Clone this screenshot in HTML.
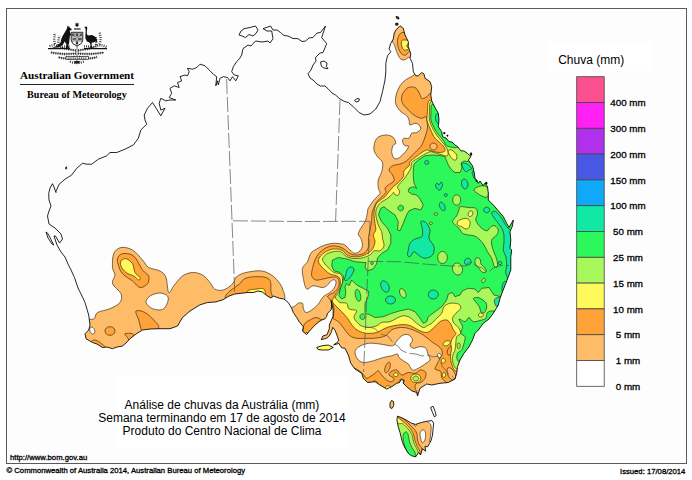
<!DOCTYPE html>
<html><head><meta charset="utf-8">
<style>
html,body{margin:0;padding:0;background:#fff;}
body{width:692px;height:480px;overflow:hidden;position:relative;font-family:"Liberation Sans",sans-serif;}
svg{position:absolute;left:0;top:0;}
.t{position:absolute;white-space:nowrap;color:#000;}
.lb{width:60px;text-align:center;font-size:9.8px;line-height:12px;-webkit-text-stroke:0.3px #000;}
.sm{font-size:7.7px;line-height:9px;-webkit-text-stroke:0.3px #000;}
</style></head><body>
<svg width="692" height="480" viewBox="0 0 692 480">
<rect x="0" y="0" width="692" height="480" fill="#fff"/>
<rect x="6.5" y="8.5" width="680" height="455" fill="#fdfdfd" stroke="#5a5a5a" stroke-width="1"/>
<!--MAP-->
<defs><clipPath id="land"><path d="M174.2,85.8 L179.2,87.5 L177.5,82.5 L181.7,80.8 L180.0,76.7 L185.0,75.0 L187.5,75.8 L189.2,71.7 L187.5,68.3 L192.5,69.2 L196.7,67.5 L200.0,64.2 L205.0,65.8 L209.2,70.0 L213.3,74.2 L216.7,76.7 L215.8,85.8 L217.5,80.8 L218.3,85.0 L220.0,78.3 L223.3,76.7 L227.5,77.5 L230.0,80.8 L232.5,76.7 L235.8,80.8 L238.3,75.8 L234.2,75.0 L231.7,71.7 L233.3,66.7 L236.7,61.7 L240.0,58.0 L241.7,55.0 L243.0,48.7 L248.0,45.0 L251.0,46.0 L255.5,41.0 L262.0,42.0 L268.0,41.0 L270.0,43.0 L273.0,38.7 L271.7,31.0 L267.0,31.0 L263.0,28.7 L270.5,26.0 L273.0,30.0 L277.0,30.0 L280.5,32.5 L284.0,35.5 L288.0,36.0 L293.0,38.5 L298.0,38.7 L302.0,41.5 L305.5,41.0 L309.0,38.0 L313.0,37.5 L317.0,33.0 L320.5,32.5 L325.5,26.0 L321.7,37.5 L326.7,43.7 L323.0,52.5 L320.0,53.0 L315.5,57.5 L316.0,61.0 L313.0,65.0 L311.0,70.0 L308.0,73.7 L310.0,78.0 L313.0,80.0 L317.0,84.0 L320.5,86.0 L325.0,86.0 L328.0,88.7 L332.0,93.0 L335.5,95.0 L340.0,99.0 L345.0,101.7 L348.3,102.5 L353.3,106.7 L359.0,112.5 L364.0,115.0 L370.0,114.0 L375.8,109.0 L380.0,101.7 L382.5,91.7 L385.0,80.0 L385.8,71.7 L385.8,63.3 L387.5,55.8 L390.8,51.7 L389.0,49.0 L390.8,43.3 L393.3,39.0 L394.0,34.0 L395.8,30.0 L400.0,25.8 L403.3,28.3 L405.0,35.0 L408.3,41.7 L408.3,46.7 L410.8,54.0 L410.0,58.3 L412.5,63.3 L413.3,71.7 L415.8,75.8 L418.3,75.8 L421.7,72.5 L424.0,74.0 L425.0,78.3 L430.0,81.7 L431.7,86.7 L430.8,95.0 L431.7,100.8 L435.0,107.5 L438.3,113.3 L439.0,120.0 L438.3,126.7 L441.7,131.7 L442.5,136.7 L446.0,138.0 L449.0,141.7 L452.0,142.0 L455.0,145.0 L458.0,147.0 L460.8,150.8 L464.0,151.0 L467.5,153.3 L470.8,156.7 L468.3,160.0 L472.5,165.8 L474.0,171.7 L475.0,178.3 L478.3,183.3 L480.0,181.0 L483.3,185.8 L485.0,183.0 L487.5,186.7 L488.3,193.3 L488.3,200.0 L493.3,205.0 L498.3,210.8 L503.3,216.7 L506.7,223.3 L509.0,227.5 L513.3,220.0 L512.5,225.8 L510.0,231.7 L510.8,240.0 L510.0,248.3 L511.7,250.0 L510.8,256.7 L510.8,265.0 L510.8,270.0 L508.3,276.7 L505.8,283.3 L502.5,291.7 L500.0,298.3 L498.3,305.0 L493.3,313.3 L489.0,319.0 L483.3,323.3 L478.3,330.0 L475.0,333.3 L472.5,340.0 L469.0,346.7 L464.0,353.3 L460.0,360.0 L457.5,366.7 L456.7,373.3 L455.0,379.0 L448.3,382.5 L440.0,383.3 L431.7,385.0 L426.7,384.0 L420.0,388.3 L417.5,396.0 L416.7,392.5 L411.7,390.8 L406.7,386.7 L403.0,383.0 L404.0,380.5 L401.0,379.5 L399.5,382.5 L396.7,383.3 L391.7,386.7 L386.7,389.0 L380.0,385.0 L375.0,381.7 L367.5,382.5 L363.3,378.3 L361.7,373.3 L355.0,369.0 L350.8,363.3 L348.3,355.0 L345.0,348.3 L341.7,347.8 L338.8,343.4 L333.7,344.9 L336.6,342.7 L338.8,340.5 L337.3,336.1 L335.1,330.3 L332.7,327.3 L331.5,331.7 L329.3,336.1 L326.4,338.3 L321.3,339.7 L322.7,336.1 L327.1,334.6 L329.3,328.8 L329.3,325.1 L330.8,321.5 L333.0,316.4 L333.2,310.5 L332.3,305.0 L331.0,300.5 L331.6,305.0 L331.3,309.8 L330.0,310.8 L327.5,313.4 L326.6,316.6 L325.0,318.8 L321.2,320.3 L318.8,321.9 L315.0,325.0 L311.8,328.5 L308.9,331.7 L306.7,334.6 L304.5,333.0 L302.5,330.8 L303.3,326.7 L299.2,321.7 L296.7,317.5 L293.3,312.5 L291.7,308.3 L288.3,302.5 L283.8,299.0 L279.5,298.3 L273.7,296.1 L270.8,297.9 L266.5,295.4 L262.1,291.8 L257.8,291.1 L253.5,292.5 L247.7,292.5 L241.9,293.2 L234.7,294.0 L228.9,296.1 L223.1,299.7 L215.9,301.9 L207.2,302.6 L200.0,304.8 L190.0,311.0 L182.5,317.5 L177.5,326.0 L170.0,328.7 L160.0,328.7 L150.0,329.0 L142.5,330.0 L136.0,334.0 L130.0,338.7 L126.0,343.0 L122.5,346.0 L117.0,347.0 L112.5,348.7 L107.0,347.0 L102.5,347.5 L97.0,344.0 L92.5,342.5 L86.0,338.7 L85.0,333.7 L88.7,330.0 L90.0,325.0 L88.7,315.0 L85.0,302.5 L82.0,296.0 L78.0,288.0 L74.5,277.5 L71.0,270.0 L68.0,264.0 L65.0,257.0 L61.0,252.0 L57.0,245.0 L54.0,236.0 L55.5,236.0 L59.5,243.0 L62.5,239.0 L61.0,234.0 L55.0,228.0 L49.0,224.0 L47.5,216.0 L49.0,211.0 L51.0,206.0 L49.0,200.0 L48.7,193.7 L50.0,188.0 L52.5,183.7 L54.0,187.0 L56.0,192.5 L55.8,191.7 L59.2,184.2 L65.0,179.2 L71.7,175.0 L76.7,168.3 L82.5,163.3 L86.7,164.2 L91.7,164.2 L98.3,159.2 L106.7,155.8 L110.0,152.5 L116.7,152.5 L125.0,149.2 L133.3,145.0 L138.3,138.3 L140.8,130.0 L146.7,124.2 L145.0,120.0 L144.2,115.0 L147.5,108.3 L152.5,102.5 L160.8,115.8 L165.0,108.3 L160.8,110.0 L159.2,103.3 L160.8,98.3 L165.8,100.8 L170.0,100.0 L175.8,100.0 L169.2,97.5 L171.7,93.3 L170.0,88.3Z M397.5,416.2 L401.2,417.5 L406.2,420.0 L411.2,423.1 L415.6,424.4 L421.2,422.5 L427.5,421.2 L431.9,420.6 L433.7,423.1 L433.1,428.7 L432.5,435.0 L431.2,440.0 L429.4,443.7 L427.5,446.9 L425.0,446.2 L425.6,451.2 L422.5,448.7 L420.6,455.0 L418.7,452.5 L415.6,456.9 L411.2,455.6 L408.1,453.1 L405.0,448.1 L402.5,442.5 L401.2,437.5 L400.0,432.5 L398.1,426.2 L396.9,420.0Z M316.7,347.5 L321.7,345.8 L328.3,345.0 L333.3,347.5 L328.3,350.0 L321.7,350.0 L318.0,349.5Z M391.5,400.5 L393.5,401.5 L393.8,405.5 L392.0,408.5 L390.0,407.5 L390.0,403.0Z"/></clipPath></defs>
<path d="M174.2,85.8 L179.2,87.5 L177.5,82.5 L181.7,80.8 L180.0,76.7 L185.0,75.0 L187.5,75.8 L189.2,71.7 L187.5,68.3 L192.5,69.2 L196.7,67.5 L200.0,64.2 L205.0,65.8 L209.2,70.0 L213.3,74.2 L216.7,76.7 L215.8,85.8 L217.5,80.8 L218.3,85.0 L220.0,78.3 L223.3,76.7 L227.5,77.5 L230.0,80.8 L232.5,76.7 L235.8,80.8 L238.3,75.8 L234.2,75.0 L231.7,71.7 L233.3,66.7 L236.7,61.7 L240.0,58.0 L241.7,55.0 L243.0,48.7 L248.0,45.0 L251.0,46.0 L255.5,41.0 L262.0,42.0 L268.0,41.0 L270.0,43.0 L273.0,38.7 L271.7,31.0 L267.0,31.0 L263.0,28.7 L270.5,26.0 L273.0,30.0 L277.0,30.0 L280.5,32.5 L284.0,35.5 L288.0,36.0 L293.0,38.5 L298.0,38.7 L302.0,41.5 L305.5,41.0 L309.0,38.0 L313.0,37.5 L317.0,33.0 L320.5,32.5 L325.5,26.0 L321.7,37.5 L326.7,43.7 L323.0,52.5 L320.0,53.0 L315.5,57.5 L316.0,61.0 L313.0,65.0 L311.0,70.0 L308.0,73.7 L310.0,78.0 L313.0,80.0 L317.0,84.0 L320.5,86.0 L325.0,86.0 L328.0,88.7 L332.0,93.0 L335.5,95.0 L340.0,99.0 L345.0,101.7 L348.3,102.5 L353.3,106.7 L359.0,112.5 L364.0,115.0 L370.0,114.0 L375.8,109.0 L380.0,101.7 L382.5,91.7 L385.0,80.0 L385.8,71.7 L385.8,63.3 L387.5,55.8 L390.8,51.7 L389.0,49.0 L390.8,43.3 L393.3,39.0 L394.0,34.0 L395.8,30.0 L400.0,25.8 L403.3,28.3 L405.0,35.0 L408.3,41.7 L408.3,46.7 L410.8,54.0 L410.0,58.3 L412.5,63.3 L413.3,71.7 L415.8,75.8 L418.3,75.8 L421.7,72.5 L424.0,74.0 L425.0,78.3 L430.0,81.7 L431.7,86.7 L430.8,95.0 L431.7,100.8 L435.0,107.5 L438.3,113.3 L439.0,120.0 L438.3,126.7 L441.7,131.7 L442.5,136.7 L446.0,138.0 L449.0,141.7 L452.0,142.0 L455.0,145.0 L458.0,147.0 L460.8,150.8 L464.0,151.0 L467.5,153.3 L470.8,156.7 L468.3,160.0 L472.5,165.8 L474.0,171.7 L475.0,178.3 L478.3,183.3 L480.0,181.0 L483.3,185.8 L485.0,183.0 L487.5,186.7 L488.3,193.3 L488.3,200.0 L493.3,205.0 L498.3,210.8 L503.3,216.7 L506.7,223.3 L509.0,227.5 L513.3,220.0 L512.5,225.8 L510.0,231.7 L510.8,240.0 L510.0,248.3 L511.7,250.0 L510.8,256.7 L510.8,265.0 L510.8,270.0 L508.3,276.7 L505.8,283.3 L502.5,291.7 L500.0,298.3 L498.3,305.0 L493.3,313.3 L489.0,319.0 L483.3,323.3 L478.3,330.0 L475.0,333.3 L472.5,340.0 L469.0,346.7 L464.0,353.3 L460.0,360.0 L457.5,366.7 L456.7,373.3 L455.0,379.0 L448.3,382.5 L440.0,383.3 L431.7,385.0 L426.7,384.0 L420.0,388.3 L417.5,396.0 L416.7,392.5 L411.7,390.8 L406.7,386.7 L403.0,383.0 L404.0,380.5 L401.0,379.5 L399.5,382.5 L396.7,383.3 L391.7,386.7 L386.7,389.0 L380.0,385.0 L375.0,381.7 L367.5,382.5 L363.3,378.3 L361.7,373.3 L355.0,369.0 L350.8,363.3 L348.3,355.0 L345.0,348.3 L341.7,347.8 L338.8,343.4 L333.7,344.9 L336.6,342.7 L338.8,340.5 L337.3,336.1 L335.1,330.3 L332.7,327.3 L331.5,331.7 L329.3,336.1 L326.4,338.3 L321.3,339.7 L322.7,336.1 L327.1,334.6 L329.3,328.8 L329.3,325.1 L330.8,321.5 L333.0,316.4 L333.2,310.5 L332.3,305.0 L331.0,300.5 L331.6,305.0 L331.3,309.8 L330.0,310.8 L327.5,313.4 L326.6,316.6 L325.0,318.8 L321.2,320.3 L318.8,321.9 L315.0,325.0 L311.8,328.5 L308.9,331.7 L306.7,334.6 L304.5,333.0 L302.5,330.8 L303.3,326.7 L299.2,321.7 L296.7,317.5 L293.3,312.5 L291.7,308.3 L288.3,302.5 L283.8,299.0 L279.5,298.3 L273.7,296.1 L270.8,297.9 L266.5,295.4 L262.1,291.8 L257.8,291.1 L253.5,292.5 L247.7,292.5 L241.9,293.2 L234.7,294.0 L228.9,296.1 L223.1,299.7 L215.9,301.9 L207.2,302.6 L200.0,304.8 L190.0,311.0 L182.5,317.5 L177.5,326.0 L170.0,328.7 L160.0,328.7 L150.0,329.0 L142.5,330.0 L136.0,334.0 L130.0,338.7 L126.0,343.0 L122.5,346.0 L117.0,347.0 L112.5,348.7 L107.0,347.0 L102.5,347.5 L97.0,344.0 L92.5,342.5 L86.0,338.7 L85.0,333.7 L88.7,330.0 L90.0,325.0 L88.7,315.0 L85.0,302.5 L82.0,296.0 L78.0,288.0 L74.5,277.5 L71.0,270.0 L68.0,264.0 L65.0,257.0 L61.0,252.0 L57.0,245.0 L54.0,236.0 L55.5,236.0 L59.5,243.0 L62.5,239.0 L61.0,234.0 L55.0,228.0 L49.0,224.0 L47.5,216.0 L49.0,211.0 L51.0,206.0 L49.0,200.0 L48.7,193.7 L50.0,188.0 L52.5,183.7 L54.0,187.0 L56.0,192.5 L55.8,191.7 L59.2,184.2 L65.0,179.2 L71.7,175.0 L76.7,168.3 L82.5,163.3 L86.7,164.2 L91.7,164.2 L98.3,159.2 L106.7,155.8 L110.0,152.5 L116.7,152.5 L125.0,149.2 L133.3,145.0 L138.3,138.3 L140.8,130.0 L146.7,124.2 L145.0,120.0 L144.2,115.0 L147.5,108.3 L152.5,102.5 L160.8,115.8 L165.0,108.3 L160.8,110.0 L159.2,103.3 L160.8,98.3 L165.8,100.8 L170.0,100.0 L175.8,100.0 L169.2,97.5 L171.7,93.3 L170.0,88.3Z M397.5,416.2 L401.2,417.5 L406.2,420.0 L411.2,423.1 L415.6,424.4 L421.2,422.5 L427.5,421.2 L431.9,420.6 L433.7,423.1 L433.1,428.7 L432.5,435.0 L431.2,440.0 L429.4,443.7 L427.5,446.9 L425.0,446.2 L425.6,451.2 L422.5,448.7 L420.6,455.0 L418.7,452.5 L415.6,456.9 L411.2,455.6 L408.1,453.1 L405.0,448.1 L402.5,442.5 L401.2,437.5 L400.0,432.5 L398.1,426.2 L396.9,420.0Z M316.7,347.5 L321.7,345.8 L328.3,345.0 L333.3,347.5 L328.3,350.0 L321.7,350.0 L318.0,349.5Z M391.5,400.5 L393.5,401.5 L393.8,405.5 L392.0,408.5 L390.0,407.5 L390.0,403.0Z" fill="#fdfdfd" stroke="none"/>
<g clip-path="url(#land)" stroke="#33240c" stroke-width="0.65" stroke-linejoin="round">
<path d="M414.0,75.0 C412.1,76.7 410.2,77.0 408.3,78.3 C406.4,79.5 404.2,80.7 402.5,82.5 C400.8,84.3 399.4,86.6 398.3,89.0 C397.2,91.4 396.2,94.2 395.8,96.7 C395.4,99.2 395.1,101.7 395.8,104.0 C396.5,106.3 398.2,108.8 400.0,110.8 C401.8,112.8 405.2,114.3 406.7,115.8 C408.2,117.3 408.4,118.5 409.0,120.0 C409.6,121.5 409.0,124.5 410.0,125.0 C411.0,125.5 413.5,123.3 415.0,123.3 C416.5,123.3 418.0,124.0 419.0,125.0 C420.0,126.0 421.2,127.8 420.8,129.0 C420.4,130.2 418.2,131.8 416.7,132.5 C415.2,133.2 413.0,132.3 411.7,133.3 C410.4,134.3 410.3,137.5 409.0,138.3 C407.7,139.1 405.1,137.7 404.0,138.3 C402.9,138.9 402.3,140.4 402.5,141.7 C402.7,142.9 404.0,145.1 405.0,145.8 C406.0,146.5 407.9,145.3 408.3,145.8 C408.7,146.3 408.3,147.6 407.5,149.0 C406.7,150.4 404.8,152.4 403.3,154.0 C401.8,155.6 399.9,157.6 398.3,158.3 C396.8,159.0 395.1,159.4 394.0,158.3 C392.9,157.2 391.8,153.9 391.7,151.7 C391.6,149.5 392.6,146.4 393.3,145.0 C394.0,143.6 395.8,144.6 395.8,143.3 C395.8,142.1 394.8,138.9 393.3,137.5 C391.8,136.1 389.1,135.1 386.7,135.0 C384.3,134.9 380.9,135.6 379.0,136.7 C377.1,137.8 375.8,139.5 375.0,141.7 C374.2,143.9 373.6,147.5 374.0,150.0 C374.4,152.5 376.1,154.6 377.5,156.7 C378.9,158.8 381.8,160.0 382.5,162.5 C383.2,165.0 382.4,168.8 381.7,171.7 C381.0,174.6 378.9,177.2 378.3,180.0 C377.7,182.8 378.0,186.1 378.3,188.3 C378.6,190.5 380.7,191.4 380.0,193.3 C379.3,195.2 375.9,197.5 374.0,200.0 C372.1,202.5 369.4,206.4 368.3,208.3 C367.2,210.2 367.9,209.8 367.5,211.7 C367.1,213.6 366.9,217.2 365.8,220.0 C364.7,222.8 362.1,226.0 360.8,228.3 C359.6,230.6 358.3,232.3 358.3,234.0 C358.3,235.7 360.1,236.5 360.8,238.3 C361.5,240.1 362.6,242.9 362.5,245.0 C362.4,247.1 361.2,249.4 360.0,250.8 C358.8,252.2 356.7,253.4 355.0,253.3 C353.3,253.2 351.7,251.4 350.0,250.0 C348.3,248.6 346.4,246.0 345.0,245.0 C343.6,244.0 343.6,244.3 341.7,244.0 C339.8,243.7 336.1,243.1 333.3,243.3 C330.5,243.5 327.8,244.1 325.0,245.0 C322.2,245.9 319.1,247.6 316.7,249.0 C314.3,250.4 312.3,251.2 310.8,253.3 C309.3,255.4 308.9,259.2 307.5,261.7 C306.1,264.2 303.2,265.5 302.5,268.3 C301.8,271.1 302.6,274.9 303.3,278.3 C304.0,281.8 305.0,287.8 306.7,289.0 C308.4,290.2 310.5,286.1 313.3,285.8 C316.1,285.6 320.7,287.9 323.3,287.5 C325.9,287.1 327.5,284.6 329.0,283.3 C330.5,282.1 331.4,280.4 332.5,280.0 C333.6,279.6 335.4,279.7 335.8,280.8 C336.2,281.9 336.0,284.8 335.0,286.7 C334.0,288.6 331.9,290.8 330.0,292.5 C328.1,294.2 325.2,294.8 323.3,296.7 C321.4,298.6 320.2,301.8 318.3,304.0 C316.4,306.2 313.8,308.6 311.7,310.0 C309.6,311.4 307.2,312.8 305.8,312.5 C304.4,312.2 303.9,309.8 303.3,308.3 C302.8,306.8 303.3,304.1 302.5,303.3 C301.7,302.5 299.7,302.7 298.3,303.3 C296.9,303.9 296.2,305.2 294.0,306.7 C291.8,308.1 284.8,306.4 285.0,312.0 C285.2,317.6 287.5,332.0 295.0,340.0 C302.5,348.0 321.7,353.3 330.0,360.0 C338.3,366.7 339.2,374.2 345.0,380.0 C350.8,385.8 357.5,391.7 365.0,395.0 C372.5,398.3 380.8,398.3 390.0,400.0 C399.2,401.7 406.7,406.7 420.0,405.0 C433.3,403.3 458.3,399.2 470.0,390.0 C481.7,380.8 480.0,365.0 490.0,350.0 C500.0,335.0 523.3,325.0 530.0,300.0 C536.7,275.0 536.7,225.0 530.0,200.0 C523.3,175.0 502.5,166.7 490.0,150.0 C477.5,133.3 463.3,113.3 455.0,100.0 C446.7,86.7 445.8,75.3 440.0,70.0 C434.2,64.7 424.3,67.2 420.0,68.0 C415.7,68.8 415.9,73.3 414.0,75.0Z" fill="#ffbc68"/>
<path d="M355.0,351.7 C355.2,349.6 356.8,348.1 359.0,346.7 C361.2,345.3 364.8,343.8 368.3,343.3 C371.8,342.9 376.4,343.6 380.0,344.0 C383.6,344.4 387.7,345.6 390.0,345.8 C392.3,346.0 392.8,346.0 394.0,345.0 C395.2,344.0 395.9,341.7 397.5,340.0 C399.1,338.3 401.4,335.8 403.3,335.0 C405.2,334.2 407.5,334.2 409.0,335.0 C410.5,335.8 412.3,338.3 412.5,340.0 C412.7,341.7 409.9,343.6 410.0,345.0 C410.1,346.4 411.6,348.0 413.3,348.3 C415.0,348.6 417.9,346.7 420.0,346.7 C422.1,346.7 424.4,346.9 425.8,348.3 C427.2,349.7 427.6,353.1 428.3,355.0 C429.0,356.9 430.6,358.5 430.0,360.0 C429.4,361.5 426.9,362.6 425.0,364.0 C423.1,365.4 420.4,367.3 418.3,368.3 C416.2,369.3 414.2,370.7 412.5,370.0 C410.8,369.3 409.8,365.5 408.3,364.0 C406.8,362.5 404.9,361.9 403.3,360.8 C401.8,359.7 400.0,358.6 399.0,357.5 C398.0,356.4 398.7,354.3 397.5,354.0 C396.3,353.7 394.1,355.2 391.7,355.8 C389.3,356.4 386.4,356.7 383.3,357.5 C380.2,358.3 376.6,360.0 373.3,360.8 C370.0,361.6 365.9,362.8 363.3,362.5 C360.7,362.2 358.9,360.8 357.5,359.0 C356.1,357.2 354.8,353.8 355.0,351.7Z" fill="#fdfdfd"/>
<path d="M441.3,355.7 C441.3,356.1 441.2,356.5 441.0,356.8 C440.9,357.2 440.6,357.5 440.3,357.7 C440.0,357.9 439.6,358.0 439.3,358.0 C439.0,358.0 438.6,357.9 438.3,357.7 C438.0,357.5 437.7,357.2 437.6,356.8 C437.4,356.5 437.3,356.1 437.3,355.7 C437.3,355.3 437.4,354.9 437.6,354.6 C437.7,354.2 438.0,353.9 438.3,353.7 C438.6,353.5 439.0,353.4 439.3,353.4 C439.6,353.4 440.0,353.5 440.3,353.7 C440.6,353.9 440.9,354.2 441.0,354.6 C441.2,354.9 441.3,355.3 441.3,355.7Z" fill="#fdfdfd"/>
<path d="M394.0,28.0 C395.3,25.0 397.0,21.7 400.0,22.0 C403.0,22.3 410.0,24.5 412.0,30.0 C414.0,35.5 412.6,50.4 412.0,55.0 C411.4,59.6 409.6,56.7 408.3,57.5 C407.0,58.3 405.4,59.9 404.0,60.0 C402.6,60.1 401.2,59.7 400.0,58.3 C398.8,56.9 397.6,53.9 396.7,51.7 C395.8,49.5 395.3,47.0 394.5,45.0 C393.7,43.0 392.1,42.8 392.0,40.0 C391.9,37.2 392.7,31.0 394.0,28.0Z" fill="#ffbc68"/>
<path d="M400.0,34.0 C401.0,32.8 401.3,32.5 403.3,32.5 C405.3,32.5 410.6,31.1 412.0,34.0 C413.4,36.9 412.5,47.0 412.0,50.0 C411.5,53.0 410.0,50.9 409.0,51.7 C408.0,52.5 407.0,54.6 405.8,55.0 C404.6,55.4 402.9,55.2 401.7,54.0 C400.4,52.8 399.0,49.8 398.3,47.5 C397.6,45.2 397.2,42.2 397.5,40.0 C397.8,37.8 399.0,35.2 400.0,34.0Z" fill="#ffa238"/>
<path d="M401.7,40.8 C402.1,39.8 402.6,40.0 404.0,40.0 C405.4,40.0 409.6,40.0 410.0,41.0 C410.4,42.0 406.9,44.5 406.7,45.8 C406.4,47.1 408.9,48.3 408.5,49.0 C408.1,49.7 405.1,50.5 404.0,50.0 C402.9,49.5 402.1,47.3 401.7,45.8 C401.3,44.3 401.3,41.8 401.7,40.8Z" fill="#fffa5c"/>
<path d="M84.0,320.0 C86.0,318.2 91.5,320.2 93.7,319.0 C96.0,317.8 94.8,314.2 97.5,312.5 C100.2,310.8 106.2,310.4 110.0,308.7 C113.8,307.0 118.2,305.0 120.0,302.5 C121.8,300.0 122.2,296.8 121.0,293.7 C119.8,290.6 113.5,286.8 112.5,283.7 C111.5,280.6 115.0,277.7 115.0,275.0 C115.0,272.3 112.7,271.1 112.5,267.5 C112.3,263.9 112.3,257.0 113.7,253.7 C115.1,250.4 117.9,248.1 121.0,247.5 C124.1,246.9 128.9,247.9 132.5,250.0 C136.1,252.1 139.8,257.1 142.5,260.0 C145.2,262.9 145.8,265.7 148.7,267.5 C151.6,269.3 157.1,269.3 160.0,271.0 C162.9,272.7 164.6,273.9 166.0,277.5 C167.4,281.1 167.4,291.1 168.7,292.5 C170.0,293.9 171.4,288.8 173.7,286.0 C176.0,283.2 179.4,278.2 182.5,276.0 C185.6,273.8 189.2,272.7 192.5,272.5 C195.8,272.3 199.6,273.3 202.5,275.0 C205.4,276.7 208.0,280.2 210.0,282.5 C212.0,284.8 212.6,287.6 214.5,288.9 C216.4,290.2 219.4,290.5 221.7,290.3 C224.0,290.1 226.3,288.7 228.2,287.5 C230.1,286.3 231.9,284.7 233.2,283.0 C234.5,281.3 234.6,278.9 236.1,277.3 C237.6,275.8 239.5,274.6 241.9,273.7 C244.3,272.8 247.7,272.1 250.6,271.6 C253.5,271.1 256.6,270.7 259.2,270.8 C261.8,270.9 264.1,271.3 266.5,272.3 C268.9,273.3 271.5,274.8 273.7,276.6 C275.9,278.4 277.9,280.7 279.5,283.0 C281.1,285.3 282.4,287.5 283.1,290.3 C283.9,293.1 286.2,297.6 284.0,300.0 C281.8,302.4 277.3,305.0 270.0,305.0 C262.7,305.0 250.0,298.8 240.0,300.0 C230.0,301.2 219.2,307.0 210.0,312.0 C200.8,317.0 195.0,325.3 185.0,330.0 C175.0,334.7 160.8,335.7 150.0,340.0 C139.2,344.3 129.2,354.0 120.0,356.0 C110.8,358.0 101.7,354.7 95.0,352.0 C88.3,349.3 82.2,343.7 80.0,340.0 C77.8,336.3 81.3,333.3 82.0,330.0 C82.7,326.7 82.0,321.8 84.0,320.0Z" fill="#ffbc68"/>
<path d="M94.6,329.8 C94.8,330.3 94.9,331.0 94.9,331.6 C94.9,332.1 94.7,332.7 94.5,333.1 C94.3,333.5 93.9,333.8 93.5,334.0 C93.2,334.1 92.7,334.1 92.2,333.9 C91.8,333.8 91.3,333.4 91.0,333.0 C90.6,332.6 90.2,332.0 90.0,331.4 C89.8,330.9 89.7,330.2 89.7,329.6 C89.7,329.1 89.9,328.5 90.1,328.1 C90.3,327.7 90.7,327.4 91.1,327.2 C91.4,327.1 91.9,327.1 92.4,327.3 C92.8,327.4 93.3,327.8 93.6,328.2 C94.0,328.6 94.4,329.2 94.6,329.8Z" fill="#fdfdfd"/>
<path d="M146.0,302.5 C145.6,300.4 147.7,297.6 150.0,296.0 C152.3,294.4 157.1,293.0 160.0,293.0 C162.9,293.0 166.2,294.4 167.5,296.0 C168.8,297.6 168.3,300.2 167.5,302.5 C166.7,304.8 165.0,308.5 162.5,309.5 C160.0,310.5 155.2,309.9 152.5,308.7 C149.8,307.5 146.4,304.6 146.0,302.5Z" fill="#fdfdfd"/>
<path d="M117.5,258.7 C118.1,256.6 119.8,254.1 122.5,253.7 C125.2,253.2 130.4,253.3 133.7,256.0 C137.0,258.7 140.0,266.7 142.5,270.0 C145.0,273.3 147.9,273.7 148.7,276.0 C149.5,278.3 148.9,281.8 147.5,283.7 C146.1,285.6 142.5,287.9 140.0,287.5 C137.5,287.1 135.4,283.3 132.5,281.0 C129.6,278.7 124.8,276.2 122.5,273.7 C120.2,271.2 119.5,268.5 118.7,266.0 C117.9,263.5 116.9,260.8 117.5,258.7Z" fill="#ffa238"/>
<path d="M121.0,261.0 C121.8,259.8 124.1,258.2 126.0,258.7 C127.9,259.1 131.0,261.4 132.5,263.7 C134.0,266.0 133.8,270.2 135.0,272.5 C136.2,274.8 139.4,276.2 140.0,277.5 C140.6,278.8 139.8,280.2 138.7,280.0 C137.6,279.8 135.8,277.2 133.7,276.0 C131.6,274.8 128.1,274.2 126.0,272.5 C123.9,270.8 121.8,267.9 121.0,266.0 C120.2,264.1 120.2,262.2 121.0,261.0Z" fill="#fffa5c"/>
<path d="M136.0,311.0 C137.1,309.8 142.1,311.0 145.0,312.5 C147.9,314.0 151.4,317.5 153.7,320.0 C156.0,322.5 159.3,325.3 158.7,327.5 C158.1,329.7 152.7,332.2 150.0,333.0 C147.3,333.8 144.4,334.2 142.5,332.0 C140.6,329.8 139.8,323.5 138.7,320.0 C137.6,316.5 134.9,312.2 136.0,311.0Z" fill="#ffa238"/>
<path d="M115.0,331.0 C115.0,331.7 114.7,332.5 114.3,333.1 C113.9,333.8 113.2,334.4 112.5,334.7 C111.8,335.1 110.8,335.3 110.0,335.3 C109.2,335.3 108.2,335.1 107.5,334.7 C106.8,334.4 106.1,333.8 105.7,333.1 C105.3,332.5 105.0,331.7 105.0,331.0 C105.0,330.3 105.3,329.5 105.7,328.9 C106.1,328.2 106.8,327.6 107.5,327.3 C108.2,326.9 109.2,326.7 110.0,326.7 C110.8,326.7 111.8,326.9 112.5,327.3 C113.2,327.6 113.9,328.2 114.3,328.9 C114.7,329.5 115.0,330.3 115.0,331.0Z" fill="#ffa238"/>
<path d="M125.0,333.7 C125.8,333.1 131.1,333.1 132.5,333.7 C133.9,334.3 134.1,336.3 133.7,337.5 C133.3,338.7 131.0,341.0 130.0,341.0 C129.0,341.0 128.3,338.7 127.5,337.5 C126.7,336.3 124.2,334.3 125.0,333.7Z" fill="#ffa238"/>
<path d="M93.7,340.0 C95.4,339.6 98.1,341.2 100.0,342.5 C101.9,343.8 105.0,346.1 105.0,347.5 C105.0,348.9 102.5,351.4 100.0,351.0 C97.5,350.6 91.0,346.8 90.0,345.0 C89.0,343.2 92.0,340.4 93.7,340.0Z" fill="#ffa238"/>
<path d="M225.3,297.6 C224.7,296.4 226.6,294.2 228.2,292.5 C229.8,290.8 232.6,289.1 234.7,287.5 C236.8,285.9 239.1,284.4 240.5,283.1 C241.9,281.8 242.0,280.5 243.4,279.5 C244.8,278.5 246.7,277.8 249.1,277.3 C251.5,276.8 255.2,276.6 257.8,276.6 C260.4,276.6 263.1,276.8 265.0,277.3 C266.9,277.8 268.4,278.4 269.4,279.5 C270.4,280.6 270.6,282.0 270.8,283.8 C271.0,285.6 270.8,287.6 270.8,290.3 C270.8,293.0 274.5,298.7 271.0,300.0 C267.5,301.3 256.5,298.0 250.0,298.0 C243.5,298.0 236.1,300.1 232.0,300.0 C227.9,299.9 225.9,298.9 225.3,297.6Z" fill="#ffa238"/>
<path d="M247.7,291.1 C247.9,290.0 249.6,290.0 251.3,289.6 C253.0,289.2 255.9,289.1 257.8,288.9 C259.7,288.7 261.7,288.1 262.9,288.5 C264.1,288.9 264.8,290.0 265.0,291.1 C265.2,292.2 266.5,294.2 264.0,295.0 C261.5,295.8 252.7,296.6 250.0,296.0 C247.3,295.4 247.5,292.2 247.7,291.1Z" fill="#fffa5c"/>
<path d="M304.0,325.0 C305.0,322.3 308.0,321.2 310.0,320.0 C312.0,318.8 314.1,317.7 315.8,317.5 C317.5,317.3 318.6,318.2 320.0,319.0 C321.4,319.8 325.0,319.2 324.0,322.0 C323.0,324.8 317.3,333.7 314.0,336.0 C310.7,338.3 305.7,337.8 304.0,336.0 C302.3,334.2 303.0,327.7 304.0,325.0Z" fill="#ffa238"/>
<path d="M309.0,334.0 C309.0,334.2 308.9,334.5 308.7,334.8 C308.6,335.0 308.3,335.2 308.0,335.3 C307.7,335.4 307.3,335.5 307.0,335.5 C306.7,335.5 306.3,335.4 306.0,335.3 C305.7,335.2 305.4,335.0 305.3,334.8 C305.1,334.5 305.0,334.2 305.0,334.0 C305.0,333.8 305.1,333.5 305.3,333.2 C305.4,333.0 305.7,332.8 306.0,332.7 C306.3,332.6 306.7,332.5 307.0,332.5 C307.3,332.5 307.7,332.6 308.0,332.7 C308.3,332.8 308.6,333.0 308.7,333.2 C308.9,333.5 309.0,333.8 309.0,334.0Z" fill="#fffa5c"/>
<path d="M431.0,93.0 C428.6,94.2 427.4,96.6 425.8,97.5 C424.2,98.4 422.8,99.1 421.7,98.3 C420.6,97.5 420.1,94.3 419.0,92.5 C417.9,90.7 416.8,88.3 415.0,87.5 C413.2,86.7 410.1,86.8 408.3,87.5 C406.5,88.2 405.1,90.2 404.0,91.7 C402.9,93.2 401.9,94.8 401.7,96.7 C401.4,98.6 401.4,101.1 402.5,103.3 C403.6,105.5 406.2,107.9 408.3,110.0 C410.4,112.1 412.8,114.4 415.0,115.8 C417.2,117.2 419.9,118.1 421.7,118.3 C423.5,118.5 424.9,116.2 425.8,116.7 C426.7,117.2 426.7,119.1 427.0,121.0 C427.3,122.9 427.7,125.8 427.5,128.0 C427.3,130.2 426.7,131.7 426.0,134.0 C425.3,136.3 424.2,139.6 423.3,141.7 C422.4,143.8 421.9,145.2 420.8,146.7 C419.7,148.2 418.2,149.3 416.7,150.8 C415.2,152.3 413.4,154.1 411.7,155.8 C410.0,157.5 408.6,159.4 406.7,160.8 C404.8,162.2 402.4,163.2 400.0,164.0 C397.6,164.8 394.3,164.8 392.5,165.8 C390.7,166.8 389.0,168.5 389.0,170.0 C389.0,171.5 391.7,173.2 392.5,175.0 C393.3,176.8 394.7,179.1 394.0,180.8 C393.3,182.5 389.8,183.8 388.3,185.0 C386.8,186.2 385.4,187.1 385.0,188.3 C384.6,189.6 386.5,191.0 385.8,192.5 C385.1,194.0 382.4,195.8 380.8,197.5 C379.2,199.2 377.3,200.9 376.0,203.0 C374.7,205.1 373.7,208.2 373.0,210.0 C372.3,211.8 372.2,212.1 372.0,214.0 C371.8,215.9 371.8,219.0 371.5,221.7 C371.2,224.4 370.5,227.2 370.0,230.0 C369.5,232.8 368.8,235.5 368.5,238.3 C368.2,241.1 369.1,244.3 368.5,246.7 C367.9,249.1 366.8,251.1 365.0,252.5 C363.2,253.9 360.0,254.8 357.5,255.0 C355.0,255.2 352.5,254.7 350.0,253.5 C347.5,252.3 345.3,249.3 342.5,248.0 C339.7,246.7 336.2,245.8 333.3,245.8 C330.4,245.9 327.4,247.1 325.0,248.3 C322.6,249.6 320.7,251.4 319.0,253.3 C317.3,255.2 316.1,257.5 315.0,260.0 C313.9,262.5 313.1,265.7 312.5,268.3 C311.9,270.9 311.1,273.9 311.7,275.8 C312.2,277.8 313.9,279.5 315.8,280.0 C317.7,280.5 320.9,279.4 323.3,279.0 C325.7,278.6 327.8,277.8 330.0,277.5 C332.2,277.2 335.2,276.8 336.7,277.5 C338.2,278.2 338.7,280.0 339.0,281.7 C339.3,283.4 339.1,285.7 338.3,287.5 C337.5,289.3 335.2,291.4 334.0,292.5 C332.8,293.6 331.9,293.3 330.8,294.0 C329.7,294.7 327.5,295.7 327.5,296.7 C327.5,297.7 330.0,299.2 330.8,300.0 C331.6,300.8 332.0,300.0 332.5,301.7 C333.0,303.4 333.9,307.2 334.0,310.0 C334.1,312.8 333.0,316.6 333.3,318.3 C333.6,320.0 334.7,319.2 335.8,320.0 C336.9,320.8 338.5,321.6 340.0,323.3 C341.5,325.0 343.3,327.9 345.0,330.0 C346.7,332.1 348.1,334.4 350.0,335.8 C351.9,337.2 354.2,337.9 356.7,338.3 C359.2,338.7 362.2,338.3 365.0,338.3 C367.8,338.3 370.2,338.6 373.3,338.3 C376.4,338.0 380.8,337.5 383.3,336.7 C385.8,335.9 386.6,334.6 388.3,333.3 C390.0,332.0 390.8,330.0 393.3,329.0 C395.8,328.0 400.0,327.3 403.3,327.5 C406.6,327.7 410.0,328.8 413.3,330.0 C416.6,331.2 420.2,333.1 423.3,335.0 C426.4,336.9 428.9,339.6 431.7,341.7 C434.5,343.8 438.2,345.6 440.0,347.5 C441.8,349.4 442.5,351.5 442.5,353.3 C442.5,355.1 441.0,356.4 440.0,358.3 C439.0,360.2 437.5,363.2 436.7,365.0 C435.9,366.8 434.3,367.9 435.0,369.0 C435.7,370.1 439.7,370.3 440.8,371.7 C441.9,373.1 440.7,375.6 441.7,377.5 C442.7,379.4 443.9,380.9 447.0,383.0 C450.1,385.1 454.5,395.5 460.0,390.0 C465.5,384.5 470.0,365.0 480.0,350.0 C490.0,335.0 512.5,325.0 520.0,300.0 C527.5,275.0 530.0,225.0 525.0,200.0 C520.0,175.0 501.7,165.8 490.0,150.0 C478.3,134.2 463.3,115.0 455.0,105.0 C446.7,95.0 444.0,92.0 440.0,90.0 C436.0,88.0 433.4,91.8 431.0,93.0Z" fill="#ffa238"/>
<path d="M437.1,146.5 C437.1,147.1 436.9,147.7 436.6,148.2 C436.3,148.7 435.8,149.2 435.3,149.4 C434.8,149.7 434.1,149.9 433.5,149.9 C432.9,149.9 432.2,149.7 431.7,149.4 C431.2,149.2 430.7,148.7 430.4,148.2 C430.1,147.7 429.9,147.1 429.9,146.5 C429.9,145.9 430.1,145.3 430.4,144.8 C430.7,144.3 431.2,143.8 431.7,143.6 C432.2,143.3 432.9,143.1 433.5,143.1 C434.1,143.1 434.8,143.3 435.3,143.6 C435.8,143.8 436.3,144.3 436.6,144.8 C436.9,145.3 437.1,145.9 437.1,146.5Z" fill="#ffbc68"/>
<path d="M447.5,368.3 C448.2,367.3 450.6,367.6 452.0,369.0 C453.4,370.4 455.8,374.9 455.8,376.7 C455.8,378.5 453.3,380.3 452.0,380.0 C450.7,379.7 448.8,376.9 448.0,375.0 C447.2,373.1 446.8,369.3 447.5,368.3Z" fill="#ffbc68"/>
<path d="M351.7,367.5 C353.7,367.5 356.1,368.9 358.0,370.0 C359.9,371.1 361.6,372.6 363.0,374.0 C364.4,375.4 365.4,378.0 366.7,378.3 C368.0,378.6 369.6,376.8 371.0,376.0 C372.4,375.2 373.8,374.2 375.0,373.3 C376.2,372.4 377.2,370.5 378.3,370.8 C379.4,371.1 380.3,373.5 381.7,375.0 C383.1,376.5 385.0,378.9 386.7,380.0 C388.4,381.1 390.5,382.0 391.7,381.7 C392.9,381.4 394.4,379.4 394.0,378.3 C393.6,377.2 389.5,376.1 389.0,375.0 C388.5,373.9 389.5,372.5 390.8,371.7 C392.1,370.9 394.9,369.4 396.7,370.0 C398.5,370.6 399.8,374.6 401.7,375.0 C403.6,375.4 406.1,372.8 408.3,372.5 C410.5,372.2 412.9,373.7 415.0,373.3 C417.1,372.9 419.0,370.1 420.8,370.0 C422.6,369.9 425.1,371.1 425.8,372.5 C426.5,373.9 425.8,376.6 425.0,378.3 C424.2,380.0 422.2,381.7 420.8,382.5 C419.4,383.3 417.7,382.5 416.7,383.3 C415.7,384.1 414.8,385.1 415.0,387.5 C415.2,389.9 420.5,396.2 418.0,398.0 C415.5,399.8 406.3,398.5 400.0,398.0 C393.7,397.5 386.7,397.0 380.0,395.0 C373.3,393.0 365.7,390.2 360.0,386.0 C354.3,381.8 347.4,373.1 346.0,370.0 C344.6,366.9 349.7,367.5 351.7,367.5Z" fill="#ffa238"/>
<path d="M389.7,368.3 C389.3,369.1 388.9,370.1 388.4,370.8 C388.0,371.4 387.4,372.1 387.0,372.4 C386.5,372.7 386.0,372.8 385.6,372.7 C385.3,372.5 384.9,372.1 384.8,371.6 C384.6,371.0 384.6,370.2 384.7,369.4 C384.8,368.6 385.0,367.6 385.3,366.7 C385.7,365.9 386.1,364.9 386.6,364.2 C387.0,363.6 387.6,362.9 388.0,362.6 C388.5,362.3 389.0,362.2 389.4,362.3 C389.7,362.5 390.1,362.9 390.2,363.4 C390.4,364.0 390.4,364.8 390.3,365.6 C390.2,366.4 390.0,367.4 389.7,368.3Z" fill="#ffa238"/>
<path d="M452.3,351.7 C452.1,352.4 451.7,353.1 451.3,353.7 C450.8,354.2 450.3,354.7 449.8,354.9 C449.4,355.1 448.9,355.2 448.5,355.0 C448.1,354.9 447.7,354.5 447.5,354.0 C447.3,353.6 447.2,352.9 447.2,352.2 C447.2,351.5 447.4,350.6 447.7,349.9 C447.9,349.2 448.3,348.5 448.7,347.9 C449.2,347.4 449.7,346.9 450.2,346.7 C450.6,346.5 451.1,346.4 451.5,346.6 C451.9,346.7 452.3,347.1 452.5,347.6 C452.7,348.0 452.8,348.7 452.8,349.4 C452.8,350.1 452.6,351.0 452.3,351.7Z" fill="#ffa238"/>
<path d="M420.8,378.3 C420.8,379.0 420.5,379.8 420.1,380.4 C419.7,381.1 419.0,381.7 418.3,382.0 C417.6,382.4 416.6,382.6 415.8,382.6 C415.0,382.6 414.0,382.4 413.3,382.0 C412.6,381.7 411.9,381.1 411.5,380.4 C411.1,379.8 410.8,379.0 410.8,378.3 C410.8,377.6 411.1,376.8 411.5,376.2 C411.9,375.5 412.6,374.9 413.3,374.6 C414.0,374.2 415.0,374.0 415.8,374.0 C416.6,374.0 417.6,374.2 418.3,374.6 C419.0,374.9 419.7,375.5 420.1,376.2 C420.5,376.8 420.8,377.6 420.8,378.3Z" fill="#fffa5c"/>
<path d="M418.6,378.5 C418.6,378.9 418.5,379.4 418.2,379.8 C418.0,380.1 417.6,380.5 417.2,380.7 C416.8,380.9 416.3,381.0 415.8,381.0 C415.3,381.0 414.8,380.9 414.4,380.7 C414.0,380.5 413.6,380.1 413.4,379.8 C413.1,379.4 413.0,378.9 413.0,378.5 C413.0,378.1 413.1,377.6 413.4,377.2 C413.6,376.9 414.0,376.5 414.4,376.3 C414.8,376.1 415.3,376.0 415.8,376.0 C416.3,376.0 416.8,376.1 417.2,376.3 C417.6,376.5 418.0,376.9 418.2,377.2 C418.5,377.6 418.6,378.1 418.6,378.5Z" fill="#a8f85c"/>
<path d="M398.1,374.7 C398.1,375.0 398.0,375.4 397.8,375.7 C397.6,376.0 397.3,376.3 396.9,376.4 C396.6,376.6 396.2,376.7 395.8,376.7 C395.4,376.7 395.0,376.6 394.7,376.4 C394.3,376.3 394.0,376.0 393.8,375.7 C393.6,375.4 393.5,375.0 393.5,374.7 C393.5,374.4 393.6,374.0 393.8,373.7 C394.0,373.4 394.3,373.1 394.7,373.0 C395.0,372.8 395.4,372.7 395.8,372.7 C396.2,372.7 396.6,372.8 396.9,373.0 C397.3,373.1 397.6,373.4 397.8,373.7 C398.0,374.0 398.1,374.4 398.1,374.7Z" fill="#fffa5c"/>
<path d="M391.3,388.0 C391.3,388.4 391.1,388.8 390.9,389.1 C390.6,389.5 390.2,389.8 389.8,390.0 C389.4,390.2 388.8,390.3 388.3,390.3 C387.8,390.3 387.2,390.2 386.8,390.0 C386.4,389.8 386.0,389.5 385.7,389.1 C385.5,388.8 385.3,388.4 385.3,388.0 C385.3,387.6 385.5,387.2 385.7,386.9 C386.0,386.5 386.4,386.2 386.8,386.0 C387.2,385.8 387.8,385.7 388.3,385.7 C388.8,385.7 389.4,385.8 389.8,386.0 C390.2,386.2 390.6,386.5 390.9,386.9 C391.1,387.2 391.3,387.6 391.3,388.0Z" fill="#fffa5c"/>
<path d="M377.2,382.5 C377.2,382.8 377.1,383.1 376.9,383.3 C376.7,383.5 376.4,383.8 376.1,383.9 C375.8,384.0 375.4,384.1 375.0,384.1 C374.6,384.1 374.2,384.0 373.9,383.9 C373.6,383.8 373.3,383.5 373.1,383.3 C372.9,383.1 372.8,382.8 372.8,382.5 C372.8,382.2 372.9,381.9 373.1,381.7 C373.3,381.5 373.6,381.2 373.9,381.1 C374.2,381.0 374.6,380.9 375.0,380.9 C375.4,380.9 375.8,381.0 376.1,381.1 C376.4,381.2 376.7,381.5 376.9,381.7 C377.1,381.9 377.2,382.2 377.2,382.5Z" fill="#fffa5c"/>
<path d="M450.1,341.7 C450.3,342.0 450.3,342.5 450.2,343.0 C450.0,343.4 449.7,343.9 449.3,344.3 C448.8,344.7 448.2,345.1 447.7,345.4 C447.1,345.7 446.4,345.9 445.8,345.9 C445.2,346.0 444.6,345.9 444.2,345.7 C443.8,345.6 443.4,345.3 443.3,344.9 C443.1,344.6 443.1,344.1 443.2,343.6 C443.4,343.2 443.7,342.7 444.1,342.3 C444.6,341.9 445.2,341.5 445.7,341.2 C446.3,340.9 447.0,340.7 447.6,340.7 C448.2,340.6 448.8,340.7 449.2,340.9 C449.6,341.0 450.0,341.3 450.1,341.7Z" fill="#fffa5c"/>
<path d="M445.3,360.8 C445.3,361.2 445.2,361.7 445.0,362.0 C444.9,362.3 444.6,362.7 444.3,362.9 C444.0,363.1 443.6,363.2 443.3,363.2 C443.0,363.2 442.6,363.1 442.3,362.9 C442.0,362.7 441.7,362.3 441.6,362.0 C441.4,361.7 441.3,361.2 441.3,360.8 C441.3,360.4 441.4,359.9 441.6,359.6 C441.7,359.3 442.0,358.9 442.3,358.7 C442.6,358.5 443.0,358.4 443.3,358.4 C443.6,358.4 444.0,358.5 444.3,358.7 C444.6,358.9 444.9,359.3 445.0,359.6 C445.2,359.9 445.3,360.4 445.3,360.8Z" fill="#fffa5c"/>
<path d="M445.8,375.0 C445.8,375.4 445.7,375.9 445.6,376.2 C445.4,376.5 445.2,376.9 444.9,377.1 C444.6,377.3 444.3,377.4 444.0,377.4 C443.7,377.4 443.4,377.3 443.1,377.1 C442.8,376.9 442.6,376.5 442.4,376.2 C442.3,375.9 442.2,375.4 442.2,375.0 C442.2,374.6 442.3,374.1 442.4,373.8 C442.6,373.5 442.8,373.1 443.1,372.9 C443.4,372.7 443.7,372.6 444.0,372.6 C444.3,372.6 444.6,372.7 444.9,372.9 C445.2,373.1 445.4,373.5 445.6,373.8 C445.7,374.1 445.8,374.6 445.8,375.0Z" fill="#fffa5c"/>
<path d="M404.3,381.5 C404.3,381.9 404.2,382.4 404.0,382.7 C403.7,383.0 403.4,383.4 403.0,383.6 C402.6,383.8 402.1,383.9 401.7,383.9 C401.3,383.9 400.8,383.8 400.4,383.6 C400.0,383.4 399.7,383.0 399.4,382.7 C399.2,382.4 399.1,381.9 399.1,381.5 C399.1,381.1 399.2,380.6 399.4,380.3 C399.7,380.0 400.0,379.6 400.4,379.4 C400.8,379.2 401.3,379.1 401.7,379.1 C402.1,379.1 402.6,379.2 403.0,379.4 C403.4,379.6 403.7,380.0 404.0,380.3 C404.2,380.6 404.3,381.1 404.3,381.5Z" fill="#fdfdfd"/>
<path d="M433.0,100.0 C430.7,100.6 429.2,99.8 428.3,101.7 C427.4,103.7 427.7,108.7 427.5,111.7 C427.3,114.8 426.6,117.2 427.0,120.0 C427.4,122.8 428.8,125.5 430.0,128.3 C431.2,131.1 432.7,134.6 434.0,136.7 C435.3,138.8 436.4,139.4 438.0,141.0 C439.6,142.6 442.1,144.4 443.3,146.0 C444.5,147.6 445.6,149.7 445.0,150.8 C444.4,151.9 442.0,152.4 440.0,152.5 C438.0,152.6 435.2,151.9 433.0,151.5 C430.8,151.1 428.7,149.7 426.7,150.0 C424.7,150.3 422.8,152.1 420.8,153.3 C418.9,154.6 416.8,156.1 415.0,157.5 C413.2,158.9 411.0,160.3 410.0,161.7 C409.0,163.1 410.0,164.3 409.0,165.8 C408.0,167.3 404.9,169.0 404.0,170.8 C403.1,172.6 404.2,174.8 403.3,176.7 C402.4,178.6 400.0,180.8 398.3,182.5 C396.6,184.2 394.9,185.2 393.3,186.7 C391.8,188.2 390.4,190.0 389.0,191.7 C387.6,193.4 386.8,195.0 385.0,196.7 C383.2,198.4 379.8,200.3 378.3,201.7 C376.8,203.1 376.5,203.1 375.8,205.0 C375.1,206.9 374.1,210.2 374.0,213.3 C373.9,216.4 374.7,220.5 375.0,223.3 C375.3,226.1 376.1,228.1 375.8,230.0 C375.5,231.9 373.4,233.1 373.3,235.0 C373.2,236.9 375.1,239.4 375.0,241.7 C374.9,244.0 373.9,246.9 372.5,249.0 C371.1,251.1 369.1,252.7 366.7,254.0 C364.3,255.3 361.4,256.4 358.3,256.7 C355.2,257.0 351.1,256.9 348.3,255.8 C345.5,254.7 344.2,251.1 341.7,250.0 C339.2,248.9 335.9,248.7 333.3,249.0 C330.7,249.3 327.9,250.6 325.8,251.7 C323.7,252.8 322.1,254.3 320.8,255.8 C319.6,257.3 318.3,259.1 318.3,260.8 C318.3,262.5 319.7,264.3 320.8,265.8 C321.9,267.3 323.5,268.6 325.0,270.0 C326.5,271.4 328.1,273.0 330.0,274.0 C331.9,275.0 335.0,275.0 336.7,275.8 C338.4,276.6 339.4,277.1 340.0,279.0 C340.6,280.9 340.6,285.2 340.0,287.5 C339.4,289.8 337.8,290.7 336.7,292.5 C335.6,294.3 334.0,296.8 333.3,298.3 C332.6,299.8 332.1,300.4 332.5,301.7 C332.9,302.9 334.3,304.1 335.8,305.8 C337.3,307.5 339.8,309.6 341.7,311.7 C343.6,313.8 345.7,315.9 347.5,318.3 C349.3,320.7 350.7,323.7 352.5,325.8 C354.3,327.9 355.9,329.6 358.3,330.8 C360.7,332.1 363.6,333.0 366.7,333.3 C369.8,333.6 373.6,333.3 376.7,332.5 C379.8,331.7 382.2,329.4 385.0,328.3 C387.8,327.2 390.2,326.4 393.3,325.8 C396.4,325.2 400.4,324.5 403.3,324.5 C406.2,324.5 408.5,325.1 411.0,326.0 C413.5,326.9 415.7,328.9 418.3,330.0 C420.9,331.1 424.2,332.8 426.7,332.5 C429.2,332.2 431.1,330.1 433.3,328.3 C435.5,326.5 437.8,323.1 440.0,321.7 C442.2,320.3 444.9,319.6 446.7,320.0 C448.5,320.4 449.7,322.3 450.8,324.0 C451.9,325.7 452.4,328.4 453.3,330.0 C454.2,331.6 456.1,332.1 456.0,333.5 C455.9,334.9 453.4,336.7 452.5,338.3 C451.6,339.9 451.0,341.5 450.8,343.3 C450.6,345.1 451.6,346.8 451.5,349.0 C451.4,351.2 450.4,354.0 450.5,356.7 C450.6,359.4 450.9,362.6 452.0,365.0 C453.1,367.4 454.0,371.8 457.0,371.0 C460.0,370.2 462.8,368.5 470.0,360.0 C477.2,351.5 491.7,333.3 500.0,320.0 C508.3,306.7 515.8,300.0 520.0,280.0 C524.2,260.0 530.0,221.7 525.0,200.0 C520.0,178.3 501.7,165.0 490.0,150.0 C478.3,135.0 463.0,118.7 455.0,110.0 C447.0,101.3 445.7,99.7 442.0,98.0 C438.3,96.3 435.3,99.4 433.0,100.0Z" fill="#fffa5c"/>
<path d="M434.0,101.0 C431.8,101.7 430.8,101.3 430.0,103.0 C429.2,104.7 429.6,108.2 429.5,111.0 C429.4,113.8 429.0,117.2 429.5,120.0 C430.0,122.8 431.3,125.5 432.5,128.0 C433.7,130.5 435.1,132.9 436.5,135.0 C437.9,137.1 439.5,138.7 441.0,140.5 C442.5,142.3 444.3,144.1 445.5,146.0 C446.7,147.9 447.8,150.3 448.0,152.0 C448.2,153.7 448.2,155.6 447.0,156.0 C445.8,156.4 443.2,155.1 441.0,154.5 C438.8,153.9 435.8,153.0 434.0,152.5 C432.2,152.0 431.8,151.3 430.0,151.7 C428.2,152.1 425.5,153.8 423.3,155.0 C421.1,156.2 418.6,157.8 416.7,159.0 C414.8,160.2 412.7,160.9 411.7,162.5 C410.7,164.1 411.5,166.4 410.8,168.3 C410.1,170.2 408.6,172.2 407.5,174.0 C406.4,175.8 405.2,177.4 404.0,179.0 C402.8,180.6 401.1,181.9 400.0,183.3 C398.9,184.7 397.6,186.2 397.5,187.5 C397.4,188.8 399.5,189.9 399.6,191.2 C399.7,192.5 399.0,194.6 398.2,195.2 C397.4,195.8 395.8,195.0 395.0,194.6 C394.2,194.2 394.3,192.3 393.6,192.5 C392.9,192.7 392.0,194.4 390.8,195.5 C389.6,196.6 388.4,197.8 386.7,199.0 C385.0,200.2 382.5,200.9 380.8,202.5 C379.1,204.1 377.5,206.2 376.7,208.3 C375.9,210.4 375.5,212.2 375.8,215.0 C376.1,217.8 377.3,222.2 378.3,225.0 C379.3,227.8 381.0,229.5 381.7,231.7 C382.4,233.9 382.1,236.0 382.5,238.3 C382.9,240.7 384.4,243.7 384.0,245.8 C383.6,247.9 381.7,250.0 380.0,250.8 C378.3,251.6 375.7,250.1 374.0,250.8 C372.3,251.5 372.3,253.8 370.0,255.0 C367.7,256.2 363.6,257.9 360.0,258.3 C356.4,258.7 351.5,258.6 348.3,257.5 C345.1,256.4 343.3,252.7 340.8,251.7 C338.3,250.7 335.7,251.3 333.3,251.7 C330.9,252.1 328.5,252.8 326.7,254.0 C324.9,255.2 322.8,257.3 322.5,259.0 C322.2,260.7 323.9,262.4 325.0,264.0 C326.1,265.6 327.5,266.9 329.0,268.3 C330.5,269.7 332.2,271.6 334.0,272.5 C335.8,273.4 338.6,273.0 340.0,274.0 C341.4,275.0 342.2,276.2 342.5,278.3 C342.8,280.4 342.4,284.3 341.7,286.7 C341.0,289.1 339.4,290.7 338.3,292.5 C337.2,294.3 335.4,296.5 335.0,297.5 C334.6,298.5 335.0,297.5 335.8,298.3 C336.6,299.1 338.2,301.7 340.0,302.5 C341.8,303.3 345.2,302.2 346.7,303.3 C348.2,304.4 347.3,307.8 349.0,309.0 C350.7,310.2 355.9,309.4 356.7,310.8 C357.5,312.2 353.4,315.1 354.0,317.5 C354.6,319.9 357.6,323.3 360.0,325.0 C362.4,326.7 365.5,327.4 368.3,327.5 C371.1,327.6 374.5,326.6 376.7,325.8 C378.9,325.0 379.5,323.2 381.7,322.5 C383.9,321.8 387.5,322.4 390.0,321.7 C392.5,321.0 394.5,319.3 396.7,318.3 C398.9,317.3 401.1,315.9 403.3,315.8 C405.5,315.7 407.8,316.2 410.0,317.5 C412.2,318.8 414.5,321.6 416.7,323.3 C418.9,325.0 421.4,327.2 423.3,327.5 C425.2,327.8 426.9,325.7 428.3,325.0 C429.7,324.3 430.3,324.4 431.7,323.3 C433.1,322.2 435.0,320.0 436.7,318.3 C438.4,316.6 440.5,315.2 441.7,313.3 C442.9,311.4 442.6,308.4 444.0,306.7 C445.4,305.0 447.6,303.8 450.0,303.3 C452.4,302.9 456.5,303.2 458.3,304.0 C460.1,304.8 461.2,306.8 460.8,308.3 C460.4,309.9 457.2,311.6 455.8,313.3 C454.4,315.0 452.8,316.6 452.5,318.3 C452.2,320.0 453.0,321.8 454.0,323.3 C455.0,324.8 457.2,325.8 458.3,327.5 C459.4,329.2 461.1,331.8 460.8,333.3 C460.5,334.8 457.5,335.0 456.7,336.7 C455.9,338.4 456.1,341.1 455.8,343.3 C455.5,345.5 455.6,347.8 455.0,350.0 C454.4,352.2 452.8,354.4 452.5,356.7 C452.2,359.0 452.4,361.9 453.3,364.0 C454.2,366.1 455.2,369.7 458.0,369.0 C460.8,368.3 463.0,368.2 470.0,360.0 C477.0,351.8 491.7,333.3 500.0,320.0 C508.3,306.7 515.8,300.0 520.0,280.0 C524.2,260.0 530.0,221.7 525.0,200.0 C520.0,178.3 501.7,165.0 490.0,150.0 C478.3,135.0 462.8,118.5 455.0,110.0 C447.2,101.5 446.5,100.5 443.0,99.0 C439.5,97.5 436.2,100.3 434.0,101.0Z" fill="#a8f85c"/>
<path d="M448.3,150.8 C448.7,150.0 450.3,149.3 451.7,150.0 C453.1,150.7 456.0,153.3 456.7,155.0 C457.4,156.7 456.5,159.3 455.8,160.0 C455.1,160.7 453.6,159.8 452.5,159.0 C451.4,158.2 450.2,156.4 449.5,155.0 C448.8,153.6 447.9,151.6 448.3,150.8Z" fill="#fffa5c"/>
<path d="M436.0,104.0 C433.8,104.8 432.3,103.7 431.5,105.0 C430.7,106.3 431.1,109.5 431.0,112.0 C430.9,114.5 430.5,117.4 431.0,120.0 C431.5,122.6 432.8,125.2 434.0,127.5 C435.2,129.8 436.5,131.9 438.0,134.0 C439.5,136.1 441.6,138.1 443.0,140.0 C444.4,141.9 445.2,144.3 446.5,145.5 C447.8,146.7 449.6,146.6 451.0,147.0 C452.4,147.4 453.8,147.9 455.0,147.8 C456.2,147.7 456.8,147.8 458.5,146.5 C460.2,145.2 465.6,144.4 465.0,140.0 C464.4,135.6 458.3,126.7 455.0,120.0 C451.7,113.3 448.2,102.7 445.0,100.0 C441.8,97.3 438.2,103.2 436.0,104.0Z" fill="#2cf85c"/>
<path d="M436.5,114.0 C437.1,113.4 438.4,113.5 439.0,114.5 C439.6,115.5 440.0,118.4 440.0,120.0 C440.0,121.6 439.6,123.7 439.0,124.0 C438.4,124.3 437.1,123.0 436.5,122.0 C435.9,121.0 435.5,119.3 435.5,118.0 C435.5,116.7 435.9,114.6 436.5,114.0Z" fill="#10e8a4"/>
<path d="M480.0,150.0 L468.0,161.5 L464.0,161.0 L461.0,163.0 L462.0,168.0 L460.0,172.5 L455.0,172.5 L451.7,170.0 L448.3,165.0 L445.0,156.7 L440.0,155.5 L431.7,155.0 L425.0,155.8 L418.3,160.0 L414.0,164.0 L413.3,170.0 L413.3,176.7 L414.0,183.3 L416.7,188.3 L413.3,186.7 L409.0,188.3 L408.3,191.7 L411.7,194.0 L416.7,195.0 L420.0,199.0 L423.3,205.0 L420.8,210.0 L415.0,208.3 L409.0,210.8 L406.7,214.7 L403.3,223.3 L400.0,230.8 L397.5,230.0 L398.3,221.7 L395.0,215.0 L389.0,210.8 L384.0,206.7 L380.8,208.3 L378.5,215.0 L381.7,221.7 L387.5,228.3 L390.8,235.0 L390.8,243.3 L387.5,250.0 L381.7,253.3 L377.5,258.0 L376.5,264.0 L373.0,269.0 L367.5,270.8 L365.0,267.0 L366.0,262.5 L363.3,262.5 L355.0,261.7 L346.7,259.0 L338.3,257.5 L332.5,260.0 L331.7,265.8 L334.0,270.8 L340.0,272.5 L343.3,275.8 L343.3,280.0 L341.7,285.0 L340.0,290.0 L339.0,295.8 L341.7,299.0 L345.0,297.5 L345.8,291.7 L345.0,286.7 L346.7,283.3 L349.0,285.8 L351.7,280.0 L356.7,285.0 L363.3,288.3 L369.0,291.7 L367.5,298.3 L365.0,303.3 L365.0,314.0 L368.3,314.0 L375.0,317.5 L383.3,316.7 L391.7,313.3 L400.0,310.8 L408.3,309.0 L415.0,311.7 L420.0,318.3 L423.3,323.3 L426.7,321.7 L428.3,316.7 L435.0,311.7 L441.7,306.7 L446.7,300.0 L448.3,294.0 L452.5,292.5 L455.0,296.7 L460.0,295.0 L462.5,290.8 L468.3,288.3 L475.0,289.0 L478.3,292.5 L481.7,288.3 L489.0,287.5 L494.0,295.0 L502.0,297.0 L520.0,280.0 L525.0,200.0 L500.0,170.0Z" fill="#2cf85c"/>
<path d="M373.3,263.3 C373.3,263.6 373.2,263.8 373.1,264.1 C373.0,264.3 372.8,264.5 372.6,264.6 C372.5,264.7 372.2,264.8 372.0,264.8 C371.8,264.8 371.5,264.7 371.4,264.6 C371.2,264.5 371.0,264.3 370.9,264.1 C370.8,263.8 370.7,263.6 370.7,263.3 C370.7,263.1 370.8,262.8 370.9,262.6 C371.0,262.3 371.2,262.1 371.4,262.0 C371.5,261.9 371.8,261.8 372.0,261.8 C372.2,261.8 372.5,261.9 372.6,262.0 C372.8,262.1 373.0,262.3 373.1,262.6 C373.2,262.8 373.3,263.1 373.3,263.3Z" fill="#2cf85c"/>
<path d="M459.0,319.0 C459.4,318.2 463.3,321.9 465.0,321.7 C466.7,321.4 467.6,317.5 469.0,317.5 C470.4,317.5 471.2,321.3 473.3,321.7 C475.4,322.1 479.6,320.6 481.7,320.0 C483.8,319.4 484.8,319.6 485.8,318.3 C486.8,317.1 486.3,313.7 487.5,312.5 C488.7,311.3 490.9,310.6 493.0,311.0 C495.1,311.4 500.5,311.0 500.0,315.0 C499.5,319.0 494.2,329.2 490.0,335.0 C485.8,340.8 479.2,345.0 475.0,350.0 C470.8,355.0 467.9,363.3 465.0,365.0 C462.1,366.7 458.8,361.9 457.5,360.0 C456.2,358.1 456.8,355.0 457.5,353.3 C458.2,351.6 460.6,351.7 461.7,350.0 C462.8,348.3 463.4,345.5 464.0,343.3 C464.6,341.1 465.5,338.4 465.0,336.7 C464.5,335.0 461.2,335.0 460.8,333.3 C460.4,331.6 462.8,329.1 462.5,326.7 C462.2,324.3 458.6,319.8 459.0,319.0Z" fill="#2cf85c"/>
<path d="M473.5,298.5 C473.7,297.5 476.6,297.3 478.0,297.5 C479.4,297.7 480.7,298.6 482.0,299.5 C483.3,300.4 485.2,301.6 486.0,303.0 C486.8,304.4 486.8,306.4 486.5,308.0 C486.2,309.6 485.4,311.8 484.5,312.5 C483.6,313.2 481.8,312.9 481.0,312.0 C480.2,311.1 480.2,308.4 479.5,307.0 C478.8,305.6 478.0,304.9 477.0,303.5 C476.0,302.1 473.3,299.5 473.5,298.5Z" fill="#2cf85c"/>
<path d="M360.5,294.8 C360.8,295.7 360.9,296.9 360.8,297.8 C360.8,298.7 360.6,299.5 360.4,300.1 C360.1,300.7 359.7,301.1 359.2,301.2 C358.8,301.3 358.3,301.1 357.8,300.7 C357.3,300.2 356.8,299.5 356.4,298.7 C356.0,297.9 355.7,296.8 355.5,295.8 C355.2,294.9 355.1,293.7 355.2,292.8 C355.2,291.9 355.4,291.1 355.6,290.5 C355.9,289.9 356.3,289.5 356.8,289.4 C357.2,289.3 357.7,289.5 358.2,289.9 C358.7,290.4 359.2,291.1 359.6,291.9 C360.0,292.7 360.3,293.8 360.5,294.8Z" fill="#2cf85c"/>
<path d="M365.1,316.7 C365.1,317.2 365.0,317.7 364.8,318.1 C364.5,318.5 364.2,318.9 363.8,319.1 C363.4,319.4 362.9,319.5 362.5,319.5 C362.1,319.5 361.6,319.4 361.2,319.1 C360.8,318.9 360.5,318.5 360.2,318.1 C360.0,317.7 359.9,317.2 359.9,316.7 C359.9,316.2 360.0,315.7 360.2,315.3 C360.5,314.9 360.8,314.5 361.2,314.3 C361.6,314.0 362.1,313.9 362.5,313.9 C362.9,313.9 363.4,314.0 363.8,314.3 C364.2,314.5 364.5,314.9 364.8,315.3 C365.0,315.7 365.1,316.2 365.1,316.7Z" fill="#2cf85c"/>
<path d="M403.6,208.0 C403.6,208.5 403.5,209.0 403.2,209.4 C403.0,209.8 402.6,210.2 402.2,210.4 C401.8,210.7 401.3,210.8 400.8,210.8 C400.3,210.8 399.8,210.7 399.4,210.4 C399.0,210.2 398.6,209.8 398.4,209.4 C398.1,209.0 398.0,208.5 398.0,208.0 C398.0,207.5 398.1,207.0 398.4,206.6 C398.6,206.2 399.0,205.8 399.4,205.6 C399.8,205.3 400.3,205.2 400.8,205.2 C401.3,205.2 401.8,205.3 402.2,205.6 C402.6,205.8 403.0,206.2 403.2,206.6 C403.5,207.0 403.6,207.5 403.6,208.0Z" fill="#2cf85c"/>
<path d="M483.3,315.0 C483.3,315.3 483.2,315.7 483.0,316.0 C482.8,316.3 482.4,316.6 482.1,316.7 C481.7,316.9 481.2,317.0 480.8,317.0 C480.4,317.0 479.9,316.9 479.6,316.7 C479.2,316.6 478.8,316.3 478.6,316.0 C478.4,315.7 478.3,315.3 478.3,315.0 C478.3,314.7 478.4,314.3 478.6,314.0 C478.8,313.7 479.2,313.4 479.6,313.3 C479.9,313.1 480.4,313.0 480.8,313.0 C481.2,313.0 481.7,313.1 482.1,313.3 C482.4,313.4 482.8,313.7 483.0,314.0 C483.2,314.3 483.3,314.7 483.3,315.0Z" fill="#fffa5c"/>
<path d="M460.2,345.8 C460.2,346.3 460.1,346.9 460.0,347.3 C459.9,347.7 459.7,348.1 459.4,348.4 C459.2,348.6 458.9,348.8 458.7,348.8 C458.4,348.8 458.2,348.6 457.9,348.4 C457.7,348.1 457.5,347.7 457.4,347.3 C457.3,346.9 457.2,346.3 457.2,345.8 C457.2,345.3 457.3,344.7 457.4,344.3 C457.5,343.9 457.7,343.5 457.9,343.2 C458.2,343.0 458.4,342.8 458.7,342.8 C458.9,342.8 459.2,343.0 459.4,343.2 C459.7,343.5 459.9,343.9 460.0,344.3 C460.1,344.7 460.2,345.3 460.2,345.8Z" fill="#a8f85c"/>
<path d="M460.0,206.7 C461.6,206.3 465.7,207.2 468.3,207.5 C470.9,207.8 474.3,207.2 475.8,208.3 C477.3,209.4 477.5,212.1 477.5,214.0 C477.5,215.9 475.4,217.9 475.8,220.0 C476.2,222.1 478.2,224.9 480.0,226.7 C481.8,228.5 484.9,230.8 486.7,230.8 C488.5,230.8 489.4,227.5 490.8,226.7 C492.2,225.9 493.8,225.2 495.0,225.8 C496.2,226.4 498.0,228.5 498.3,230.0 C498.6,231.5 497.8,233.3 496.7,235.0 C495.6,236.7 492.4,237.8 491.7,240.0 C491.0,242.2 491.8,245.5 492.5,248.3 C493.2,251.1 495.0,254.2 495.8,256.7 C496.6,259.2 497.4,261.5 497.5,263.3 C497.6,265.1 497.3,267.1 496.7,267.5 C496.1,267.9 494.8,267.3 494.0,265.8 C493.2,264.3 492.8,260.7 491.7,258.3 C490.6,256.0 488.8,253.9 487.5,251.7 C486.2,249.5 485.4,247.1 484.0,245.0 C482.6,242.9 480.7,240.5 479.0,239.0 C477.3,237.5 475.8,236.5 474.0,235.8 C472.2,235.1 470.2,235.4 468.3,235.0 C466.4,234.6 464.1,234.4 462.5,233.3 C460.9,232.2 460.7,230.2 459.0,228.3 C457.3,226.4 452.9,223.8 452.5,221.7 C452.1,219.6 455.6,217.8 456.7,215.8 C457.8,213.9 458.4,211.5 459.0,210.0 C459.6,208.5 458.4,207.1 460.0,206.7Z" fill="#a8f85c"/>
<path d="M460.7,200.0 C460.7,200.9 460.5,201.8 460.2,202.6 C459.8,203.4 459.3,204.1 458.7,204.5 C458.1,204.9 457.4,205.2 456.7,205.2 C456.0,205.2 455.3,204.9 454.7,204.5 C454.1,204.1 453.6,203.4 453.2,202.6 C452.9,201.8 452.7,200.9 452.7,200.0 C452.7,199.1 452.9,198.2 453.2,197.4 C453.6,196.6 454.1,195.9 454.7,195.5 C455.3,195.1 456.0,194.8 456.7,194.8 C457.4,194.8 458.1,195.1 458.7,195.5 C459.3,195.9 459.8,196.6 460.2,197.4 C460.5,198.2 460.7,199.1 460.7,200.0Z" fill="#a8f85c"/>
<path d="M458.3,220.8 C459.7,219.7 463.9,218.2 465.8,218.3 C467.8,218.5 469.5,220.2 470.0,221.7 C470.5,223.2 469.7,226.3 469.0,227.5 C468.3,228.7 467.0,229.1 465.8,229.0 C464.6,228.9 463.1,227.4 461.7,226.7 C460.3,226.0 458.1,226.0 457.5,225.0 C456.9,224.0 456.9,221.9 458.3,220.8Z" fill="#fffa5c"/>
<path d="M472.5,214.6 C472.3,215.1 471.9,215.5 471.6,215.9 C471.2,216.2 470.8,216.4 470.4,216.5 C470.0,216.6 469.6,216.6 469.2,216.4 C468.9,216.3 468.6,216.0 468.4,215.6 C468.2,215.2 468.1,214.7 468.1,214.3 C468.2,213.8 468.3,213.2 468.5,212.8 C468.7,212.3 469.1,211.9 469.4,211.5 C469.8,211.2 470.2,211.0 470.6,210.9 C471.0,210.8 471.4,210.8 471.8,211.0 C472.1,211.1 472.4,211.4 472.6,211.8 C472.8,212.2 472.9,212.7 472.9,213.1 C472.8,213.6 472.7,214.2 472.5,214.6Z" fill="#fffa5c"/>
<path d="M474.0,190.0 C474.0,188.8 476.5,187.4 478.3,186.7 C480.1,186.0 483.3,185.4 485.0,186.0 C486.7,186.6 488.1,188.2 488.5,190.0 C488.9,191.8 488.4,195.6 487.5,196.7 C486.6,197.8 484.8,197.1 483.3,196.7 C481.8,196.2 479.9,195.1 478.3,194.0 C476.8,192.9 474.0,191.2 474.0,190.0Z" fill="#a8f85c"/>
<path d="M447.3,257.5 C447.3,258.5 447.1,259.6 446.7,260.5 C446.3,261.4 445.6,262.2 444.9,262.7 C444.2,263.2 443.3,263.5 442.5,263.5 C441.7,263.5 440.8,263.2 440.1,262.7 C439.4,262.2 438.7,261.4 438.3,260.5 C437.9,259.6 437.7,258.5 437.7,257.5 C437.7,256.5 437.9,255.4 438.3,254.5 C438.7,253.6 439.4,252.8 440.1,252.3 C440.8,251.8 441.7,251.5 442.5,251.5 C443.3,251.5 444.2,251.8 444.9,252.3 C445.6,252.8 446.3,253.6 446.7,254.5 C447.1,255.4 447.3,256.5 447.3,257.5Z" fill="#a8f85c"/>
<path d="M462.3,267.7 C462.6,268.7 462.6,269.8 462.5,270.8 C462.3,271.7 461.8,272.7 461.3,273.4 C460.7,274.0 459.9,274.6 459.1,274.8 C458.2,275.0 457.3,275.0 456.4,274.7 C455.6,274.4 454.7,273.7 454.1,273.0 C453.5,272.3 452.9,271.3 452.7,270.3 C452.4,269.3 452.4,268.2 452.5,267.2 C452.7,266.3 453.2,265.3 453.7,264.6 C454.3,264.0 455.1,263.4 455.9,263.2 C456.8,263.0 457.7,263.0 458.6,263.3 C459.4,263.6 460.3,264.3 460.9,265.0 C461.5,265.7 462.1,266.7 462.3,267.7Z" fill="#a8f85c"/>
<path d="M476.0,258.0 C476.8,257.3 479.2,258.0 480.0,259.0 C480.8,260.0 480.2,262.5 481.0,264.0 C481.8,265.5 484.2,266.7 485.0,268.0 C485.8,269.3 486.5,271.3 486.0,272.0 C485.5,272.7 483.3,272.8 482.0,272.0 C480.7,271.2 479.2,268.5 478.0,267.0 C476.8,265.5 475.3,264.5 475.0,263.0 C474.7,261.5 475.2,258.7 476.0,258.0Z" fill="#a8f85c"/>
<path d="M405.3,292.1 C405.7,292.9 406.0,293.8 406.1,294.5 C406.1,295.3 406.1,296.1 405.9,296.6 C405.7,297.2 405.3,297.6 404.9,297.8 C404.5,298.0 403.9,298.0 403.4,297.8 C402.8,297.6 402.2,297.1 401.7,296.6 C401.1,296.0 400.6,295.2 400.3,294.5 C399.9,293.7 399.6,292.8 399.5,292.1 C399.5,291.3 399.5,290.5 399.7,290.0 C399.9,289.4 400.3,289.0 400.7,288.8 C401.1,288.6 401.7,288.6 402.2,288.8 C402.8,289.0 403.4,289.5 403.9,290.0 C404.5,290.6 405.0,291.4 405.3,292.1Z" fill="#a8f85c"/>
<path d="M484.9,281.3 C484.7,281.6 484.4,282.0 484.1,282.2 C483.8,282.5 483.5,282.6 483.2,282.7 C482.9,282.8 482.5,282.7 482.3,282.6 C482.1,282.4 481.9,282.2 481.8,281.9 C481.7,281.6 481.6,281.2 481.7,280.8 C481.8,280.5 481.9,280.0 482.1,279.7 C482.3,279.4 482.6,279.0 482.9,278.8 C483.2,278.5 483.5,278.4 483.8,278.3 C484.1,278.2 484.5,278.3 484.7,278.4 C484.9,278.6 485.1,278.8 485.2,279.1 C485.3,279.4 485.4,279.8 485.3,280.2 C485.2,280.5 485.1,281.0 484.9,281.3Z" fill="#a8f85c"/>
<path d="M437.6,214.0 C437.6,214.2 437.5,214.5 437.4,214.7 C437.2,214.8 437.0,215.0 436.7,215.1 C436.4,215.2 436.1,215.3 435.8,215.3 C435.5,215.3 435.2,215.2 434.9,215.1 C434.6,215.0 434.4,214.8 434.2,214.7 C434.1,214.5 434.0,214.2 434.0,214.0 C434.0,213.8 434.1,213.5 434.2,213.3 C434.4,213.2 434.6,213.0 434.9,212.9 C435.2,212.8 435.5,212.7 435.8,212.7 C436.1,212.7 436.4,212.8 436.7,212.9 C437.0,213.0 437.2,213.2 437.4,213.3 C437.5,213.5 437.6,213.8 437.6,214.0Z" fill="#a8f85c"/>
<path d="M432.3,223.3 C432.3,223.5 432.2,223.8 432.1,224.0 C432.0,224.1 431.8,224.3 431.6,224.4 C431.3,224.5 431.1,224.6 430.8,224.6 C430.6,224.6 430.3,224.5 430.1,224.4 C429.8,224.3 429.6,224.1 429.5,224.0 C429.4,223.8 429.3,223.5 429.3,223.3 C429.3,223.1 429.4,222.8 429.5,222.7 C429.6,222.5 429.8,222.3 430.1,222.2 C430.3,222.1 430.6,222.0 430.8,222.0 C431.1,222.0 431.3,222.1 431.6,222.2 C431.8,222.3 432.0,222.5 432.1,222.7 C432.2,222.8 432.3,223.1 432.3,223.3Z" fill="#a8f85c"/>
<path d="M420.8,221.7 C421.4,220.4 424.3,221.1 425.8,222.5 C427.3,223.9 429.5,227.4 430.0,230.0 C430.5,232.6 428.3,235.5 429.0,238.3 C429.7,241.1 433.4,243.9 434.0,246.7 C434.6,249.5 434.0,253.1 432.5,255.0 C431.0,256.9 427.4,258.3 425.0,258.3 C422.6,258.3 420.1,256.1 418.3,255.0 C416.5,253.9 415.4,251.4 414.0,251.7 C412.6,252.0 411.1,256.1 410.0,256.7 C408.9,257.2 407.8,256.1 407.5,255.0 C407.2,253.9 407.9,251.9 408.3,250.0 C408.7,248.1 408.9,245.1 410.0,243.3 C411.1,241.5 413.1,240.1 415.0,239.0 C416.9,237.9 420.4,238.2 421.7,236.7 C422.9,235.2 422.6,232.5 422.5,230.0 C422.4,227.5 420.2,222.9 420.8,221.7Z" fill="#10e8a4"/>
<path d="M428.7,162.5 C428.7,162.8 428.6,163.2 428.4,163.5 C428.3,163.8 428.0,164.1 427.7,164.2 C427.4,164.4 427.0,164.5 426.7,164.5 C426.4,164.5 426.0,164.4 425.7,164.2 C425.4,164.1 425.1,163.8 425.0,163.5 C424.8,163.2 424.7,162.8 424.7,162.5 C424.7,162.2 424.8,161.8 425.0,161.5 C425.1,161.2 425.4,160.9 425.7,160.8 C426.0,160.6 426.4,160.5 426.7,160.5 C427.0,160.5 427.4,160.6 427.7,160.8 C428.0,160.9 428.3,161.2 428.4,161.5 C428.6,161.8 428.7,162.2 428.7,162.5Z" fill="#10e8a4"/>
<path d="M437.0,183.0 C437.6,182.8 438.3,185.2 439.0,185.0 C439.7,184.8 440.4,182.0 441.0,182.0 C441.6,182.0 442.7,183.7 442.5,185.0 C442.3,186.3 440.8,189.3 440.0,190.0 C439.2,190.7 438.2,189.7 437.5,189.0 C436.8,188.3 435.6,187.0 435.5,186.0 C435.4,185.0 436.4,183.2 437.0,183.0Z" fill="#10e8a4"/>
<path d="M447.3,195.0 C447.3,195.2 447.2,195.5 447.1,195.8 C447.0,196.0 446.8,196.2 446.6,196.3 C446.3,196.4 446.1,196.5 445.8,196.5 C445.6,196.5 445.3,196.4 445.1,196.3 C444.8,196.2 444.6,196.0 444.5,195.8 C444.4,195.5 444.3,195.2 444.3,195.0 C444.3,194.8 444.4,194.5 444.5,194.2 C444.6,194.0 444.8,193.8 445.1,193.7 C445.3,193.6 445.6,193.5 445.8,193.5 C446.1,193.5 446.3,193.6 446.6,193.7 C446.8,193.8 447.0,194.0 447.1,194.2 C447.2,194.5 447.3,194.8 447.3,195.0Z" fill="#10e8a4"/>
<path d="M444.6,205.4 C444.9,206.1 445.1,206.9 445.2,207.6 C445.3,208.3 445.2,209.0 445.1,209.5 C444.9,210.0 444.6,210.4 444.2,210.6 C443.8,210.8 443.3,210.7 442.8,210.6 C442.3,210.4 441.8,210.0 441.3,209.5 C440.8,209.0 440.4,208.2 440.0,207.6 C439.7,206.9 439.5,206.1 439.4,205.4 C439.3,204.7 439.4,204.0 439.5,203.5 C439.7,203.0 440.0,202.6 440.4,202.4 C440.8,202.2 441.3,202.3 441.8,202.4 C442.3,202.6 442.8,203.0 443.3,203.5 C443.8,204.0 444.2,204.8 444.6,205.4Z" fill="#10e8a4"/>
<path d="M461.7,164.0 C462.2,163.2 464.3,162.8 466.0,163.5 C467.7,164.2 471.2,167.2 471.7,168.3 C472.2,169.4 470.0,169.4 469.0,170.0 C468.0,170.6 466.8,172.0 465.8,171.7 C464.8,171.4 463.7,169.3 463.0,168.0 C462.3,166.7 461.2,164.8 461.7,164.0Z" fill="#10e8a4"/>
<path d="M467.9,183.4 C468.0,184.3 468.0,185.2 467.9,186.0 C467.7,186.7 467.4,187.5 467.0,188.0 C466.6,188.5 466.1,188.8 465.6,188.9 C465.0,189.0 464.4,188.9 463.9,188.5 C463.3,188.2 462.8,187.6 462.4,186.9 C462.0,186.3 461.7,185.4 461.5,184.6 C461.4,183.7 461.4,182.8 461.5,182.0 C461.7,181.3 462.0,180.5 462.4,180.0 C462.8,179.5 463.3,179.2 463.8,179.1 C464.4,179.0 465.0,179.1 465.5,179.5 C466.1,179.8 466.6,180.4 467.0,181.1 C467.4,181.7 467.7,182.6 467.9,183.4Z" fill="#10e8a4"/>
<path d="M472.0,172.0 C472.1,171.0 473.8,170.8 474.5,172.0 C475.2,173.2 476.1,178.0 476.0,179.0 C475.9,180.0 474.7,179.2 474.0,178.0 C473.3,176.8 471.9,173.0 472.0,172.0Z" fill="#10e8a4"/>
<path d="M489.7,210.0 C489.7,210.5 489.5,211.0 489.3,211.4 C489.0,211.8 488.6,212.2 488.2,212.4 C487.8,212.7 487.2,212.8 486.7,212.8 C486.2,212.8 485.6,212.7 485.2,212.4 C484.8,212.2 484.4,211.8 484.1,211.4 C483.9,211.0 483.7,210.5 483.7,210.0 C483.7,209.5 483.9,209.0 484.1,208.6 C484.4,208.2 484.8,207.8 485.2,207.6 C485.6,207.3 486.2,207.2 486.7,207.2 C487.2,207.2 487.8,207.3 488.2,207.6 C488.6,207.8 489.0,208.2 489.3,208.6 C489.5,209.0 489.7,209.5 489.7,210.0Z" fill="#10e8a4"/>
<path d="M491.7,212.5 C492.1,211.7 494.1,210.7 495.8,211.7 C497.5,212.7 499.9,215.8 501.7,218.3 C503.5,220.8 505.0,224.4 506.7,226.7 C508.4,229.0 510.9,229.8 512.0,232.0 C513.0,234.2 513.0,237.0 513.0,240.0 C513.0,243.0 512.0,245.8 512.0,250.0 C512.0,254.2 513.3,260.0 513.0,265.0 C512.7,270.0 511.2,278.6 510.0,280.0 C508.8,281.4 506.4,275.8 505.8,273.3 C505.2,270.8 506.7,267.8 506.7,265.0 C506.7,262.2 506.4,259.2 505.8,256.7 C505.2,254.2 503.6,252.5 503.3,250.0 C503.0,247.5 504.0,244.8 504.0,241.7 C504.0,238.6 504.2,234.8 503.3,231.7 C502.4,228.6 500.0,225.8 498.3,223.3 C496.6,220.8 494.4,218.5 493.3,216.7 C492.2,214.9 491.3,213.3 491.7,212.5Z" fill="#10e8a4"/>
<path d="M471.2,261.7 C471.2,262.3 471.0,262.9 470.7,263.4 C470.5,263.9 470.0,264.4 469.5,264.6 C469.0,264.9 468.4,265.1 467.8,265.1 C467.2,265.1 466.6,264.9 466.1,264.6 C465.6,264.4 465.1,263.9 464.9,263.4 C464.6,262.9 464.4,262.3 464.4,261.7 C464.4,261.1 464.6,260.5 464.9,260.0 C465.1,259.5 465.6,259.0 466.1,258.8 C466.6,258.5 467.2,258.3 467.8,258.3 C468.4,258.3 469.0,258.5 469.5,258.8 C470.0,259.0 470.5,259.5 470.7,260.0 C471.0,260.5 471.2,261.1 471.2,261.7Z" fill="#10e8a4"/>
<path d="M501.8,263.0 C501.8,263.3 501.7,263.6 501.6,263.9 C501.4,264.2 501.2,264.4 500.9,264.6 C500.6,264.7 500.3,264.8 500.0,264.8 C499.7,264.8 499.4,264.7 499.1,264.6 C498.8,264.4 498.6,264.2 498.4,263.9 C498.3,263.6 498.2,263.3 498.2,263.0 C498.2,262.7 498.3,262.4 498.4,262.1 C498.6,261.8 498.8,261.6 499.1,261.4 C499.4,261.3 499.7,261.2 500.0,261.2 C500.3,261.2 500.6,261.3 500.9,261.4 C501.2,261.6 501.4,261.8 501.6,262.1 C501.7,262.4 501.8,262.7 501.8,263.0Z" fill="#10e8a4"/>
<path d="M347.5,269.0 C348.5,267.7 350.6,266.8 351.7,267.0 C352.8,267.2 354.0,268.7 354.0,270.0 C354.0,271.3 352.8,273.3 351.7,275.0 C350.6,276.7 348.7,279.2 347.5,280.0 C346.3,280.8 344.8,280.8 344.5,280.0 C344.2,279.2 345.3,276.8 345.8,275.0 C346.3,273.2 346.5,270.3 347.5,269.0Z" fill="#10e8a4"/>
<path d="M388.4,284.9 C388.9,285.8 389.2,286.9 389.3,287.8 C389.3,288.7 389.2,289.7 388.9,290.4 C388.6,291.1 388.1,291.7 387.5,291.9 C387.0,292.2 386.2,292.2 385.5,292.0 C384.8,291.8 383.9,291.3 383.3,290.6 C382.6,290.0 382.0,289.0 381.6,288.1 C381.1,287.2 380.8,286.1 380.7,285.2 C380.7,284.3 380.8,283.3 381.1,282.6 C381.4,281.9 381.9,281.3 382.5,281.1 C383.0,280.8 383.8,280.8 384.5,281.0 C385.2,281.2 386.1,281.7 386.7,282.4 C387.4,283.0 388.0,284.0 388.4,284.9Z" fill="#10e8a4"/>
<path d="M395.5,300.0 C395.5,300.7 395.2,301.4 394.8,302.0 C394.4,302.6 393.7,303.1 393.0,303.5 C392.3,303.8 391.3,304.0 390.5,304.0 C389.7,304.0 388.7,303.8 388.0,303.5 C387.3,303.1 386.6,302.6 386.2,302.0 C385.8,301.4 385.5,300.7 385.5,300.0 C385.5,299.3 385.8,298.6 386.2,298.0 C386.6,297.4 387.3,296.9 388.0,296.5 C388.7,296.2 389.7,296.0 390.5,296.0 C391.3,296.0 392.3,296.2 393.0,296.5 C393.7,296.9 394.4,297.4 394.8,298.0 C395.2,298.6 395.5,299.3 395.5,300.0Z" fill="#10e8a4"/>
<path d="M438.3,294.5 C438.3,295.2 438.0,296.1 437.6,296.8 C437.2,297.4 436.5,298.0 435.8,298.4 C435.1,298.8 434.1,299.0 433.3,299.0 C432.5,299.0 431.5,298.8 430.8,298.4 C430.1,298.0 429.4,297.4 429.0,296.8 C428.6,296.1 428.3,295.2 428.3,294.5 C428.3,293.8 428.6,292.9 429.0,292.2 C429.4,291.6 430.1,291.0 430.8,290.6 C431.5,290.2 432.5,290.0 433.3,290.0 C434.1,290.0 435.1,290.2 435.8,290.6 C436.5,291.0 437.2,291.6 437.6,292.2 C438.0,292.9 438.3,293.8 438.3,294.5Z" fill="#10e8a4"/>
<path d="M494.5,299.5 C495.2,298.1 499.7,296.8 500.5,297.5 C501.3,298.2 500.2,302.6 499.5,304.0 C498.8,305.4 496.8,306.8 496.0,306.0 C495.2,305.2 493.8,300.9 494.5,299.5Z" fill="#10e8a4"/>
<path d="M503.0,283.0 C503.8,281.5 506.8,280.7 507.0,282.0 C507.2,283.3 504.8,289.5 504.0,291.0 C503.2,292.5 502.2,292.3 502.0,291.0 C501.8,289.7 502.2,284.5 503.0,283.0Z" fill="#10e8a4"/>
<path d="M395.0,414.0 L436.0,414.0 L436.0,450.0 L418.0,460.0 L405.0,455.0 L395.0,430.0Z" fill="#ffbc68"/>
<path d="M422.5,430.0 C423.3,429.7 424.5,430.2 425.0,431.2 C425.5,432.2 425.7,434.5 425.6,436.2 C425.5,437.9 425.0,440.1 424.4,441.2 C423.8,442.2 422.5,443.1 421.9,442.5 C421.3,441.9 420.9,439.1 420.6,437.5 C420.3,435.9 419.7,434.4 420.0,433.1 C420.3,431.9 421.7,430.3 422.5,430.0Z" fill="#fdfdfd"/>
<path d="M416.5,424.6 C416.5,424.9 416.4,425.1 416.3,425.4 C416.2,425.6 416.1,425.8 415.9,425.9 C415.7,426.0 415.5,426.1 415.3,426.1 C415.1,426.1 414.9,426.0 414.7,425.9 C414.5,425.8 414.4,425.6 414.3,425.4 C414.2,425.1 414.1,424.9 414.1,424.6 C414.1,424.4 414.2,424.1 414.3,423.9 C414.4,423.6 414.5,423.4 414.7,423.3 C414.9,423.2 415.1,423.1 415.3,423.1 C415.5,423.1 415.7,423.2 415.9,423.3 C416.1,423.4 416.2,423.6 416.3,423.9 C416.4,424.1 416.5,424.4 416.5,424.6Z" fill="#fdfdfd"/>
<path d="M426.5,420.5 C427.3,419.7 433.6,417.4 435.0,419.0 C436.4,420.6 435.3,427.0 435.0,430.0 C434.7,433.0 433.6,435.0 433.0,437.0 C432.4,439.0 432.0,441.2 431.5,442.0 C431.0,442.8 429.9,442.7 429.8,441.5 C429.7,440.3 430.4,437.2 430.6,435.0 C430.8,432.8 431.2,429.8 431.2,428.0 C431.1,426.2 431.1,425.2 430.3,424.0 C429.5,422.8 425.7,421.3 426.5,420.5Z" fill="#fdfdfd"/>
<path d="M394.0,414.0 C395.2,411.9 399.3,416.4 401.2,417.5 C403.1,418.6 404.1,419.4 405.6,420.6 C407.1,421.9 408.5,423.5 410.0,425.0 C411.5,426.5 413.2,427.9 414.4,429.4 C415.5,430.8 416.4,431.9 416.9,433.7 C417.4,435.5 417.1,438.1 417.5,440.0 C417.9,441.9 418.7,443.6 419.4,445.0 C420.1,446.4 421.6,446.5 421.9,448.7 C422.2,450.9 423.8,456.4 421.0,458.0 C418.2,459.6 409.5,462.7 405.0,458.0 C400.5,453.3 395.8,437.3 394.0,430.0 C392.2,422.7 392.8,416.1 394.0,414.0Z" fill="#ffa238"/>
<path d="M394.0,414.0 C394.7,411.9 396.7,416.3 398.1,417.5 C399.5,418.7 401.0,419.9 402.5,421.2 C404.0,422.4 405.4,423.5 406.9,425.0 C408.3,426.5 410.1,428.3 411.2,430.0 C412.3,431.7 413.1,433.1 413.7,435.0 C414.3,436.9 414.4,439.2 415.0,441.2 C415.6,443.2 416.7,445.0 417.5,446.9 C418.3,448.8 419.8,450.5 420.0,452.5 C420.2,454.5 421.5,458.1 419.0,459.0 C416.5,459.9 409.2,462.8 405.0,458.0 C400.8,453.2 395.8,437.3 394.0,430.0 C392.2,422.7 393.3,416.1 394.0,414.0Z" fill="#fffa5c"/>
<path d="M394.0,422.0 C394.8,420.6 397.3,423.4 398.7,423.7 C400.1,424.0 401.2,423.2 402.5,423.7 C403.8,424.2 404.9,425.6 406.2,426.9 C407.4,428.1 408.9,429.6 410.0,431.2 C411.1,432.8 411.9,434.3 412.5,436.2 C413.1,438.1 413.1,440.6 413.7,442.5 C414.3,444.4 415.5,445.8 416.2,447.5 C416.9,449.2 418.0,450.6 418.1,452.5 C418.2,454.4 419.2,458.1 417.0,459.0 C414.8,459.9 408.8,462.5 405.0,458.0 C401.2,453.5 395.8,438.0 394.0,432.0 C392.2,426.0 393.2,423.4 394.0,422.0Z" fill="#a8f85c"/>
<path d="M403.7,433.7 C404.2,432.6 405.5,431.8 406.2,431.9 C406.9,432.0 407.6,432.8 408.1,434.4 C408.6,435.9 408.8,439.0 409.4,441.2 C410.0,443.4 411.0,445.6 411.9,447.5 C412.8,449.4 414.5,450.8 415.0,452.5 C415.5,454.2 415.8,456.9 415.0,457.5 C414.2,458.1 411.4,457.1 410.0,456.0 C408.6,454.9 407.8,453.0 406.9,451.2 C406.0,449.4 405.0,447.1 404.4,445.0 C403.8,442.9 403.2,440.6 403.1,438.7 C403.0,436.8 403.2,434.8 403.7,433.7Z" fill="#2cf85c"/>
<path d="M314.0,344.0 L335.0,344.0 L335.0,352.0 L314.0,352.0Z" fill="#fffa5c"/>
<path d="M388.0,398.0 L396.0,398.0 L396.0,410.0 L388.0,410.0Z" fill="#ffbc68"/>
</g>
<g fill="none" stroke="#555" stroke-width="0.7" stroke-dasharray="15 3">
<path d="M226.6,79.0 L234.8,294.0"/>
<path d="M340.0,100.0 L335.6,221.3"/>
<path d="M233.0,220.8 L300.0,221.5 L369.8,221.3"/>
<path d="M370.0,221.3 L368.2,261.0"/>
<path d="M368.2,261.0 L363.6,372.0"/>
<path d="M368.3,261.3 L400.0,261.8 L430.0,264.5 L450.0,266.0 L466.0,266.0 L468.0,263.0 L472.0,262.5 L476.0,266.0 L482.0,268.0 L486.0,271.5 L490.0,271.0 L493.0,268.0 L498.0,266.0 L503.0,265.5 L509.0,265.5"/>
<path d="M365.3,327.0 L371.0,327.5 L375.0,328.5 L378.0,332.0 L382.0,334.5 L388.0,336.0 L391.0,340.0 L394.0,344.0 L398.0,346.0 L401.0,350.0 L405.0,352.0 L410.0,353.5 L416.0,354.0 L422.0,356.0 L428.0,355.0 L433.0,357.0 L438.0,356.0 L440.0,360.0 L442.0,366.0 L447.0,372.0 L455.0,379.0"/>
</g>
<g fill="none" stroke="#000" stroke-width="0.85" stroke-linejoin="round">
<path d="M174.2,85.8 L179.2,87.5 L177.5,82.5 L181.7,80.8 L180.0,76.7 L185.0,75.0 L187.5,75.8 L189.2,71.7 L187.5,68.3 L192.5,69.2 L196.7,67.5 L200.0,64.2 L205.0,65.8 L209.2,70.0 L213.3,74.2 L216.7,76.7 L215.8,85.8 L217.5,80.8 L218.3,85.0 L220.0,78.3 L223.3,76.7 L227.5,77.5 L230.0,80.8 L232.5,76.7 L235.8,80.8 L238.3,75.8 L234.2,75.0 L231.7,71.7 L233.3,66.7 L236.7,61.7 L240.0,58.0 L241.7,55.0 L243.0,48.7 L248.0,45.0 L251.0,46.0 L255.5,41.0 L262.0,42.0 L268.0,41.0 L270.0,43.0 L273.0,38.7 L271.7,31.0 L267.0,31.0 L263.0,28.7 L270.5,26.0 L273.0,30.0 L277.0,30.0 L280.5,32.5 L284.0,35.5 L288.0,36.0 L293.0,38.5 L298.0,38.7 L302.0,41.5 L305.5,41.0 L309.0,38.0 L313.0,37.5 L317.0,33.0 L320.5,32.5 L325.5,26.0 L321.7,37.5 L326.7,43.7 L323.0,52.5 L320.0,53.0 L315.5,57.5 L316.0,61.0 L313.0,65.0 L311.0,70.0 L308.0,73.7 L310.0,78.0 L313.0,80.0 L317.0,84.0 L320.5,86.0 L325.0,86.0 L328.0,88.7 L332.0,93.0 L335.5,95.0 L340.0,99.0 L345.0,101.7 L348.3,102.5 L353.3,106.7 L359.0,112.5 L364.0,115.0 L370.0,114.0 L375.8,109.0 L380.0,101.7 L382.5,91.7 L385.0,80.0 L385.8,71.7 L385.8,63.3 L387.5,55.8 L390.8,51.7 L389.0,49.0 L390.8,43.3 L393.3,39.0 L394.0,34.0 L395.8,30.0 L400.0,25.8 L403.3,28.3 L405.0,35.0 L408.3,41.7 L408.3,46.7 L410.8,54.0 L410.0,58.3 L412.5,63.3 L413.3,71.7 L415.8,75.8 L418.3,75.8 L421.7,72.5 L424.0,74.0 L425.0,78.3 L430.0,81.7 L431.7,86.7 L430.8,95.0 L431.7,100.8 L435.0,107.5 L438.3,113.3 L439.0,120.0 L438.3,126.7 L441.7,131.7 L442.5,136.7 L446.0,138.0 L449.0,141.7 L452.0,142.0 L455.0,145.0 L458.0,147.0 L460.8,150.8 L464.0,151.0 L467.5,153.3 L470.8,156.7 L468.3,160.0 L472.5,165.8 L474.0,171.7 L475.0,178.3 L478.3,183.3 L480.0,181.0 L483.3,185.8 L485.0,183.0 L487.5,186.7 L488.3,193.3 L488.3,200.0 L493.3,205.0 L498.3,210.8 L503.3,216.7 L506.7,223.3 L509.0,227.5 L513.3,220.0 L512.5,225.8 L510.0,231.7 L510.8,240.0 L510.0,248.3 L511.7,250.0 L510.8,256.7 L510.8,265.0 L510.8,270.0 L508.3,276.7 L505.8,283.3 L502.5,291.7 L500.0,298.3 L498.3,305.0 L493.3,313.3 L489.0,319.0 L483.3,323.3 L478.3,330.0 L475.0,333.3 L472.5,340.0 L469.0,346.7 L464.0,353.3 L460.0,360.0 L457.5,366.7 L456.7,373.3 L455.0,379.0 L448.3,382.5 L440.0,383.3 L431.7,385.0 L426.7,384.0 L420.0,388.3 L417.5,396.0 L416.7,392.5 L411.7,390.8 L406.7,386.7 L403.0,383.0 L404.0,380.5 L401.0,379.5 L399.5,382.5 L396.7,383.3 L391.7,386.7 L386.7,389.0 L380.0,385.0 L375.0,381.7 L367.5,382.5 L363.3,378.3 L361.7,373.3 L355.0,369.0 L350.8,363.3 L348.3,355.0 L345.0,348.3 L341.7,347.8 L338.8,343.4 L333.7,344.9 L336.6,342.7 L338.8,340.5 L337.3,336.1 L335.1,330.3 L332.7,327.3 L331.5,331.7 L329.3,336.1 L326.4,338.3 L321.3,339.7 L322.7,336.1 L327.1,334.6 L329.3,328.8 L329.3,325.1 L330.8,321.5 L333.0,316.4 L333.2,310.5 L332.3,305.0 L331.0,300.5 L331.6,305.0 L331.3,309.8 L330.0,310.8 L327.5,313.4 L326.6,316.6 L325.0,318.8 L321.2,320.3 L318.8,321.9 L315.0,325.0 L311.8,328.5 L308.9,331.7 L306.7,334.6 L304.5,333.0 L302.5,330.8 L303.3,326.7 L299.2,321.7 L296.7,317.5 L293.3,312.5 L291.7,308.3 L288.3,302.5 L283.8,299.0 L279.5,298.3 L273.7,296.1 L270.8,297.9 L266.5,295.4 L262.1,291.8 L257.8,291.1 L253.5,292.5 L247.7,292.5 L241.9,293.2 L234.7,294.0 L228.9,296.1 L223.1,299.7 L215.9,301.9 L207.2,302.6 L200.0,304.8 L190.0,311.0 L182.5,317.5 L177.5,326.0 L170.0,328.7 L160.0,328.7 L150.0,329.0 L142.5,330.0 L136.0,334.0 L130.0,338.7 L126.0,343.0 L122.5,346.0 L117.0,347.0 L112.5,348.7 L107.0,347.0 L102.5,347.5 L97.0,344.0 L92.5,342.5 L86.0,338.7 L85.0,333.7 L88.7,330.0 L90.0,325.0 L88.7,315.0 L85.0,302.5 L82.0,296.0 L78.0,288.0 L74.5,277.5 L71.0,270.0 L68.0,264.0 L65.0,257.0 L61.0,252.0 L57.0,245.0 L54.0,236.0 L55.5,236.0 L59.5,243.0 L62.5,239.0 L61.0,234.0 L55.0,228.0 L49.0,224.0 L47.5,216.0 L49.0,211.0 L51.0,206.0 L49.0,200.0 L48.7,193.7 L50.0,188.0 L52.5,183.7 L54.0,187.0 L56.0,192.5 L55.8,191.7 L59.2,184.2 L65.0,179.2 L71.7,175.0 L76.7,168.3 L82.5,163.3 L86.7,164.2 L91.7,164.2 L98.3,159.2 L106.7,155.8 L110.0,152.5 L116.7,152.5 L125.0,149.2 L133.3,145.0 L138.3,138.3 L140.8,130.0 L146.7,124.2 L145.0,120.0 L144.2,115.0 L147.5,108.3 L152.5,102.5 L160.8,115.8 L165.0,108.3 L160.8,110.0 L159.2,103.3 L160.8,98.3 L165.8,100.8 L170.0,100.0 L175.8,100.0 L169.2,97.5 L171.7,93.3 L170.0,88.3Z"/>
<path d="M397.5,416.2 L401.2,417.5 L406.2,420.0 L411.2,423.1 L415.6,424.4 L421.2,422.5 L427.5,421.2 L431.9,420.6 L433.7,423.1 L433.1,428.7 L432.5,435.0 L431.2,440.0 L429.4,443.7 L427.5,446.9 L425.0,446.2 L425.6,451.2 L422.5,448.7 L420.6,455.0 L418.7,452.5 L415.6,456.9 L411.2,455.6 L408.1,453.1 L405.0,448.1 L402.5,442.5 L401.2,437.5 L400.0,432.5 L398.1,426.2 L396.9,420.0Z"/>
<path d="M316.7,347.5 L321.7,345.8 L328.3,345.0 L333.3,347.5 L328.3,350.0 L321.7,350.0 L318.0,349.5Z"/>
<path d="M391.5,400.5 L393.5,401.5 L393.8,405.5 L392.0,408.5 L390.0,407.5 L390.0,403.0Z"/>
<path d="M239.0,35.0 L241.0,31.0 L244.0,28.7 L250.0,27.5 L255.5,26.0 L258.0,30.0 L256.0,33.5 L253.0,36.0 L249.0,34.5 L245.5,37.5 L242.0,36.0Z" fill="none"/>
<path d="M320.5,62.0 L324.0,61.0 L327.0,63.0 L326.5,66.5 L328.0,68.7 L324.0,68.0 L321.5,66.5Z" fill="none"/>
<path d="M354.5,100.5 L357.0,98.5 L359.5,99.0 L358.5,101.5 L356.0,102.0Z" fill="none"/>
<path d="M430.6,407.5 L433.1,406.2 L435.0,411.2 L436.2,415.6 L434.4,416.9 L432.5,412.5Z" fill="none"/>
<path d="M46.0,232.0 L47.5,233.0 L51.0,239.5 L53.7,245.0 L52.0,244.0 L48.0,238.0Z" fill="none"/>
<path d="M65.5,167.5 L66.5,166.8 L66.8,168.6 L65.8,169.2Z" fill="none"/>
<path d="M396.0,16.5 L398.5,17.0 L399.0,19.0 L396.8,18.6Z" fill="#6a4a30"/>
<path d="M395.5,23.5 L397.8,23.0 L398.0,25.0 L395.8,25.2Z" fill="#6a4a30"/>
<path d="M443.6,132.6 L444.8,132.4 L445.0,133.6 L443.8,133.8Z" fill="#222"/>
<path d="M470.2,153.2 L471.4,152.8 L471.8,155.0 L470.6,155.4Z" fill="#222"/>
<path d="M476.0,180.2 L477.0,180.0 L477.2,181.4 L476.2,181.6Z" fill="#222"/>
<path d="M485.6,182.4 L486.8,182.2 L487.0,184.0 L485.8,184.0Z" fill="#222"/>
<path d="M446.8,135.3 L447.8,135.1 L448.0,136.1 L447.0,136.3Z" fill="#222"/>
</g>
<!--/MAP-->

<g id="crest">
<defs>
<pattern id="fol" width="3" height="3" patternUnits="userSpaceOnUse">
<path d="M0,0.5 L1.6,1.4 M2.2,0.2 L1.2,2.6 M0.2,2.4 L1,2.9" stroke="#222" stroke-width="0.75" fill="none"/>
</pattern>
</defs>
<polygon points="77.00,22.10 77.52,23.72 79.11,23.12 78.17,24.53 79.63,25.40 77.94,25.55 78.17,27.23 77.00,26.00 75.83,27.23 76.06,25.55 74.37,25.40 75.83,24.53 74.89,23.12 76.48,23.72" fill="#111"/>
<rect x="74" y="28.4" width="6.6" height="1.2" fill="#222"/>
<!-- foliage -->
<g fill="none" stroke="#333" stroke-linecap="butt">
<g stroke-width="2.4" stroke-dasharray="0.9 1.3">
<path d="M76,50.5 Q64,49 56,45.5 Q52,44.5 48.5,47"/>
<path d="M78,50.5 Q90,49 98,45.5 Q102,44.5 106.5,47"/>
<path d="M76,53.5 Q64,55 51,52.5"/>
<path d="M78,53.5 Q90,55 104,52.5"/>
<path d="M75,56.5 Q66,60 58,57"/>
<path d="M79,56.5 Q88,60 97,57"/>
<path d="M70,61.5 Q77,64.5 84,61.5"/>
<path d="M55,44 Q53.5,38 55,33"/>
<path d="M58.5,45 Q58,40 59.5,36"/>
<path d="M99.5,44.5 Q101.5,38 99.5,32.5"/>
<path d="M96,45 Q96.5,40 95.5,37"/>
<path d="M62,47 Q66,46 70,46.5"/>
<path d="M84,46.5 Q88,46 93,47"/>
</g>
<g stroke-width="0.6" stroke="#222">
<path d="M76,50.5 Q64,49 56,45.5 M78,50.5 Q90,49 98,45.5 M76,53.5 Q64,55 51,52.5 M78,53.5 Q90,55 104,52.5 M75,56.5 Q66,60 58,57 M79,56.5 Q88,60 97,57 M77,46 L77,63"/>
</g>
</g>
<!-- base bars -->
<path d="M48,48 L70,48 L70,49.3 L48,49.3 Z M84,48 L107,48 L107,49.3 L84,49.3 Z" fill="#111"/>

<!-- shield -->
<path d="M71.2,32.3 L82.8,32.3 L82.8,40 Q82.8,44 77,46 Q71.2,44 71.2,40 Z" fill="#fff" stroke="#111" stroke-width="0.9"/>
<path d="M71.2,37 L82.8,37 M75,32.3 L75,37 M79,32.3 L79,37 M77,37 L77,45.5 M71.5,41 L82.5,41" stroke="#222" stroke-width="0.6" fill="none"/>
<rect x="72" y="33.3" width="2.3" height="2.8" fill="#555"/><rect x="75.8" y="33.3" width="2.4" height="2.8" fill="#444"/><rect x="79.8" y="33.3" width="2.2" height="2.8" fill="#555"/>
<rect x="72.3" y="38" width="3.8" height="2.2" fill="#666"/><rect x="78" y="38" width="3.8" height="2.2" fill="#555"/><circle cx="77" cy="43" r="1.3" fill="#333"/>
<!-- kangaroo -->
<path d="M67.5,25.6 L68.3,26.8 L69,25.9 L69.6,27.4 L71.9,29.3 L71.2,30.2 L69.8,30.4 L70.2,33 L71.4,34.8 L71.2,35.6 L70,35.3 L69.6,38.2 L69.2,42.7 L68.2,45.8 L69.4,48 L66,48 L66.3,44 L64.5,41.5 L62.8,45 L58,47.6 L51.5,48 L57,46 L60.6,42.6 L61.4,38.6 L63.2,35 L65.6,31 L67,28.6 Z" fill="#111"/>
<!-- emu -->
<path d="M84.3,27.8 L85.6,26.6 L87,26.8 L87.3,28.4 L86.8,31 L86.8,34 L88,35.4 L92,35 L95,36.4 L96.8,39 L97.2,42.4 L95.6,41.2 L93.8,42.4 L91.8,42.6 L91.6,45 L92.4,48 L90.2,48 L90.6,45 L89.6,42.4 L87,41.4 L85.4,38.6 L85.4,35 L85.6,31 L85.6,28.6 Z" fill="#111"/>
<!-- scroll -->
<rect x="66" y="56.6" width="22.5" height="3" fill="#fff" stroke="#222" stroke-width="0.7"/>
<path d="M67.5,58.1 L87,58.1" stroke="#333" stroke-width="1.3" stroke-dasharray="1.2 0.7"/>
<path d="M74,61 L80,61 L79,63.5 L75,63.5 Z" fill="#222"/>
</g>
<!--LEGEND-->
<rect x="548" y="42" width="103" height="29" fill="#fff"/>
<rect x="118.5" y="375" width="229" height="73.5" fill="#fff"/>
<g stroke="#444" stroke-width="0.8">
<rect x="576.7" y="76.7" width="27.5" height="25.8" fill="#fb5090"/>
<rect x="576.7" y="102.5" width="27.5" height="25.8" fill="#ff20f4"/>
<rect x="576.7" y="128.3" width="27.5" height="25.8" fill="#b030ec"/>
<rect x="576.7" y="154.1" width="27.5" height="25.8" fill="#4858e4"/>
<rect x="576.7" y="179.9" width="27.5" height="25.8" fill="#10a8f8"/>
<rect x="576.7" y="205.7" width="27.5" height="25.8" fill="#10e8a4"/>
<rect x="576.7" y="231.5" width="27.5" height="25.8" fill="#2cf85c"/>
<rect x="576.7" y="257.3" width="27.5" height="25.8" fill="#a8f85c"/>
<rect x="576.7" y="283.1" width="27.5" height="25.8" fill="#fffa5c"/>
<rect x="576.7" y="308.9" width="27.5" height="25.8" fill="#ffa238"/>
<rect x="576.7" y="334.7" width="27.5" height="25.8" fill="#ffbc68"/>
<rect x="576.7" y="360.5" width="27.5" height="25.8" fill="#ffffff"/>
</g>
</svg>
<!--TEXT-->
<div class="t" style="left:539.7px;top:53px;width:103px;text-align:center;font-size:12px;line-height:14px;">Chuva (mm)</div>
<div class="t lb" style="left:598px;top:97.1px;">400 mm</div>
<div class="t lb" style="left:598px;top:122.9px;">300 mm</div>
<div class="t lb" style="left:598px;top:148.7px;">200 mm</div>
<div class="t lb" style="left:598px;top:174.5px;">150 mm</div>
<div class="t lb" style="left:598px;top:200.3px;">100 mm</div>
<div class="t lb" style="left:598px;top:226.1px;">50 mm</div>
<div class="t lb" style="left:598px;top:251.9px;">25 mm</div>
<div class="t lb" style="left:598px;top:277.7px;">15 mm</div>
<div class="t lb" style="left:598px;top:303.5px;">10 mm</div>
<div class="t lb" style="left:598px;top:329.3px;">5 mm</div>
<div class="t lb" style="left:598px;top:355.1px;">1 mm</div>
<div class="t lb" style="left:598px;top:380.9px;">0 mm</div>
<div class="t" style="left:20px;top:68.5px;font-family:'Liberation Serif',serif;font-weight:bold;font-size:11.2px;line-height:13px;">Australian Government</div>
<div style="position:absolute;left:20px;top:84px;width:114px;height:1px;background:#222;"></div>
<div class="t" style="left:27px;top:87.5px;font-family:'Liberation Serif',serif;font-weight:bold;font-size:10.15px;line-height:13px;">Bureau of Meteorology</div>
<div class="t" style="left:72px;top:399.1px;width:300px;text-align:center;font-size:12px;line-height:13px;">Análise de chuvas da Austrália (mm)<br>Semana terminando em 17 de agosto de 2014<br>Produto do Centro Nacional de Clima</div>
<div class="t sm" style="left:10px;top:452.5px;">http://www.bom.gov.au</div>
<div class="t sm" style="left:6.5px;top:465.5px;">© Commonwealth of Australia 2014, Australian Bureau of Meteorology</div>
<div class="t sm" style="right:6.6px;top:466.5px;">Issued: 17/08/2014</div>
<!--/TEXT-->
</body></html>
